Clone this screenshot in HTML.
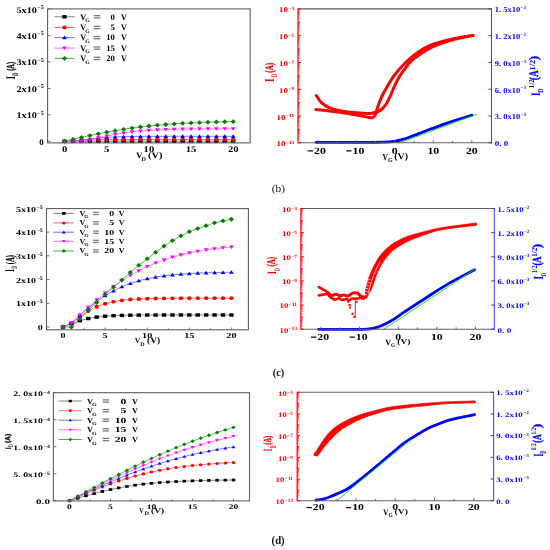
<!DOCTYPE html>
<html><head><meta charset="utf-8"><style>html,body{margin:0;padding:0;background:#fff;width:550px;height:550px;overflow:hidden}svg{display:block}svg{font-family:"Liberation Serif",serif;font-weight:bold}</style></head><body>
<svg width="550" height="550" viewBox="0 0 550 550" style="will-change:transform;text-rendering:geometricPrecision">
<rect width="550" height="550" fill="#fff"/>
<polyline points="64.6,141.3 73.03,141.3 81.46,141.3 89.89,141.3 98.32,141.3 106.75,141.3 115.18,141.3 123.61,141.3 132.04,141.3 140.47,141.3 148.9,141.3 157.33,141.3 165.76,141.3 174.19,141.3 182.62,141.3 191.05,141.3 199.48,141.3 207.91,141.3 216.34,141.3 224.77,141.3 233.2,141.3" fill="none" stroke="#808080" stroke-width="0.9" stroke-linejoin="round"/>
<polyline points="64.6,141.3 73.03,140.88 81.46,140.21 89.89,139.84 98.32,139.68 106.75,139.62 115.18,139.6 123.61,139.59 132.04,139.58 140.47,139.58 148.9,139.58 157.33,139.58 165.76,139.58 174.19,139.58 182.62,139.58 191.05,139.58 199.48,139.58 207.91,139.58 216.34,139.58 224.77,139.58 233.2,139.58" fill="none" stroke="#ff6a6a" stroke-width="0.9" stroke-linejoin="round"/>
<polyline points="64.6,141.3 73.03,141.3 81.46,140.17 89.89,138.92 98.32,137.96 106.75,137.3 115.18,136.88 123.61,136.63 132.04,136.48 140.47,136.39 148.9,136.34 157.33,136.31 165.76,136.3 174.19,136.29 182.62,136.28 191.05,136.28 199.48,136.28 207.91,136.28 216.34,136.28 224.77,136.28 233.2,136.28" fill="none" stroke="#7070ff" stroke-width="0.9" stroke-linejoin="round"/>
<polyline points="64.6,141.3 73.03,141.3 81.46,141.3 89.89,140.01 98.32,137.92 106.75,136.02 115.18,134.37 123.61,133.01 132.04,131.92 140.47,131.08 148.9,130.44 157.33,129.97 165.76,129.63 174.19,129.37 182.62,129.19 191.05,129.06 199.48,128.97 207.91,128.9 216.34,128.86 224.77,128.82 233.2,128.8" fill="none" stroke="#ff70ff" stroke-width="0.9" stroke-linejoin="round"/>
<polyline points="64.6,141.3 73.03,139.34 81.46,137.42 89.89,135.56 98.32,133.8 106.75,132.16 115.18,130.65 123.61,129.28 132.04,128.06 140.47,126.97 148.9,126.02 157.33,125.2 165.76,124.48 174.19,123.88 182.62,123.36 191.05,122.92 199.48,122.55 207.91,122.23 216.34,121.97 224.77,121.75 233.2,121.57" fill="none" stroke="#55aa55" stroke-width="0.9" stroke-linejoin="round"/>
<rect x="62.4" y="139.6" width="4.4" height="3.4" fill="#000000"/>
<rect x="70.83" y="139.6" width="4.4" height="3.4" fill="#000000"/>
<rect x="79.26" y="139.6" width="4.4" height="3.4" fill="#000000"/>
<rect x="87.69" y="139.6" width="4.4" height="3.4" fill="#000000"/>
<rect x="96.12" y="139.6" width="4.4" height="3.4" fill="#000000"/>
<rect x="104.55" y="139.6" width="4.4" height="3.4" fill="#000000"/>
<rect x="112.98" y="139.6" width="4.4" height="3.4" fill="#000000"/>
<rect x="121.41" y="139.6" width="4.4" height="3.4" fill="#000000"/>
<rect x="129.84" y="139.6" width="4.4" height="3.4" fill="#000000"/>
<rect x="138.27" y="139.6" width="4.4" height="3.4" fill="#000000"/>
<rect x="146.7" y="139.6" width="4.4" height="3.4" fill="#000000"/>
<rect x="155.13" y="139.6" width="4.4" height="3.4" fill="#000000"/>
<rect x="163.56" y="139.6" width="4.4" height="3.4" fill="#000000"/>
<rect x="171.99" y="139.6" width="4.4" height="3.4" fill="#000000"/>
<rect x="180.42" y="139.6" width="4.4" height="3.4" fill="#000000"/>
<rect x="188.85" y="139.6" width="4.4" height="3.4" fill="#000000"/>
<rect x="197.28" y="139.6" width="4.4" height="3.4" fill="#000000"/>
<rect x="205.71" y="139.6" width="4.4" height="3.4" fill="#000000"/>
<rect x="214.14" y="139.6" width="4.4" height="3.4" fill="#000000"/>
<rect x="222.57" y="139.6" width="4.4" height="3.4" fill="#000000"/>
<rect x="231" y="139.6" width="4.4" height="3.4" fill="#000000"/>
<ellipse cx="64.6" cy="141.3" rx="2.2" ry="1.9" fill="#ff0000"/>
<ellipse cx="73.03" cy="140.88" rx="2.2" ry="1.9" fill="#ff0000"/>
<ellipse cx="81.46" cy="140.21" rx="2.2" ry="1.9" fill="#ff0000"/>
<ellipse cx="89.89" cy="139.84" rx="2.2" ry="1.9" fill="#ff0000"/>
<ellipse cx="98.32" cy="139.68" rx="2.2" ry="1.9" fill="#ff0000"/>
<ellipse cx="106.75" cy="139.62" rx="2.2" ry="1.9" fill="#ff0000"/>
<ellipse cx="115.18" cy="139.6" rx="2.2" ry="1.9" fill="#ff0000"/>
<ellipse cx="123.61" cy="139.59" rx="2.2" ry="1.9" fill="#ff0000"/>
<ellipse cx="132.04" cy="139.58" rx="2.2" ry="1.9" fill="#ff0000"/>
<ellipse cx="140.47" cy="139.58" rx="2.2" ry="1.9" fill="#ff0000"/>
<ellipse cx="148.9" cy="139.58" rx="2.2" ry="1.9" fill="#ff0000"/>
<ellipse cx="157.33" cy="139.58" rx="2.2" ry="1.9" fill="#ff0000"/>
<ellipse cx="165.76" cy="139.58" rx="2.2" ry="1.9" fill="#ff0000"/>
<ellipse cx="174.19" cy="139.58" rx="2.2" ry="1.9" fill="#ff0000"/>
<ellipse cx="182.62" cy="139.58" rx="2.2" ry="1.9" fill="#ff0000"/>
<ellipse cx="191.05" cy="139.58" rx="2.2" ry="1.9" fill="#ff0000"/>
<ellipse cx="199.48" cy="139.58" rx="2.2" ry="1.9" fill="#ff0000"/>
<ellipse cx="207.91" cy="139.58" rx="2.2" ry="1.9" fill="#ff0000"/>
<ellipse cx="216.34" cy="139.58" rx="2.2" ry="1.9" fill="#ff0000"/>
<ellipse cx="224.77" cy="139.58" rx="2.2" ry="1.9" fill="#ff0000"/>
<ellipse cx="233.2" cy="139.58" rx="2.2" ry="1.9" fill="#ff0000"/>
<polygon points="64.6,139.32 62.2,142.92 67,142.92" fill="#0000ff"/>
<polygon points="73.03,139.32 70.63,142.92 75.43,142.92" fill="#0000ff"/>
<polygon points="81.46,138.19 79.06,141.79 83.86,141.79" fill="#0000ff"/>
<polygon points="89.89,136.94 87.49,140.54 92.29,140.54" fill="#0000ff"/>
<polygon points="98.32,135.98 95.92,139.58 100.72,139.58" fill="#0000ff"/>
<polygon points="106.75,135.32 104.35,138.92 109.15,138.92" fill="#0000ff"/>
<polygon points="115.18,134.9 112.78,138.5 117.58,138.5" fill="#0000ff"/>
<polygon points="123.61,134.65 121.21,138.25 126.01,138.25" fill="#0000ff"/>
<polygon points="132.04,134.5 129.64,138.1 134.44,138.1" fill="#0000ff"/>
<polygon points="140.47,134.41 138.07,138.01 142.87,138.01" fill="#0000ff"/>
<polygon points="148.9,134.36 146.5,137.96 151.3,137.96" fill="#0000ff"/>
<polygon points="157.33,134.33 154.93,137.93 159.73,137.93" fill="#0000ff"/>
<polygon points="165.76,134.32 163.36,137.92 168.16,137.92" fill="#0000ff"/>
<polygon points="174.19,134.31 171.79,137.91 176.59,137.91" fill="#0000ff"/>
<polygon points="182.62,134.3 180.22,137.9 185.02,137.9" fill="#0000ff"/>
<polygon points="191.05,134.3 188.65,137.9 193.45,137.9" fill="#0000ff"/>
<polygon points="199.48,134.3 197.08,137.9 201.88,137.9" fill="#0000ff"/>
<polygon points="207.91,134.3 205.51,137.9 210.31,137.9" fill="#0000ff"/>
<polygon points="216.34,134.3 213.94,137.9 218.74,137.9" fill="#0000ff"/>
<polygon points="224.77,134.3 222.37,137.9 227.17,137.9" fill="#0000ff"/>
<polygon points="233.2,134.3 230.8,137.9 235.6,137.9" fill="#0000ff"/>
<polygon points="64.6,143.28 62.2,139.68 67,139.68" fill="#ff00ff"/>
<polygon points="73.03,143.28 70.63,139.68 75.43,139.68" fill="#ff00ff"/>
<polygon points="81.46,143.28 79.06,139.68 83.86,139.68" fill="#ff00ff"/>
<polygon points="89.89,141.99 87.49,138.39 92.29,138.39" fill="#ff00ff"/>
<polygon points="98.32,139.9 95.92,136.3 100.72,136.3" fill="#ff00ff"/>
<polygon points="106.75,138 104.35,134.4 109.15,134.4" fill="#ff00ff"/>
<polygon points="115.18,136.35 112.78,132.75 117.58,132.75" fill="#ff00ff"/>
<polygon points="123.61,134.99 121.21,131.39 126.01,131.39" fill="#ff00ff"/>
<polygon points="132.04,133.9 129.64,130.3 134.44,130.3" fill="#ff00ff"/>
<polygon points="140.47,133.06 138.07,129.46 142.87,129.46" fill="#ff00ff"/>
<polygon points="148.9,132.42 146.5,128.82 151.3,128.82" fill="#ff00ff"/>
<polygon points="157.33,131.95 154.93,128.35 159.73,128.35" fill="#ff00ff"/>
<polygon points="165.76,131.61 163.36,128.01 168.16,128.01" fill="#ff00ff"/>
<polygon points="174.19,131.35 171.79,127.75 176.59,127.75" fill="#ff00ff"/>
<polygon points="182.62,131.17 180.22,127.57 185.02,127.57" fill="#ff00ff"/>
<polygon points="191.05,131.04 188.65,127.44 193.45,127.44" fill="#ff00ff"/>
<polygon points="199.48,130.95 197.08,127.35 201.88,127.35" fill="#ff00ff"/>
<polygon points="207.91,130.88 205.51,127.28 210.31,127.28" fill="#ff00ff"/>
<polygon points="216.34,130.84 213.94,127.24 218.74,127.24" fill="#ff00ff"/>
<polygon points="224.77,130.8 222.37,127.2 227.17,127.2" fill="#ff00ff"/>
<polygon points="233.2,130.78 230.8,127.18 235.6,127.18" fill="#ff00ff"/>
<polygon points="64.6,138.9 67.24,141.3 64.6,143.7 61.96,141.3" fill="#008000"/>
<polygon points="73.03,136.94 75.67,139.34 73.03,141.74 70.39,139.34" fill="#008000"/>
<polygon points="81.46,135.02 84.1,137.42 81.46,139.82 78.82,137.42" fill="#008000"/>
<polygon points="89.89,133.16 92.53,135.56 89.89,137.96 87.25,135.56" fill="#008000"/>
<polygon points="98.32,131.4 100.96,133.8 98.32,136.2 95.68,133.8" fill="#008000"/>
<polygon points="106.75,129.76 109.39,132.16 106.75,134.56 104.11,132.16" fill="#008000"/>
<polygon points="115.18,128.25 117.82,130.65 115.18,133.05 112.54,130.65" fill="#008000"/>
<polygon points="123.61,126.88 126.25,129.28 123.61,131.68 120.97,129.28" fill="#008000"/>
<polygon points="132.04,125.66 134.68,128.06 132.04,130.46 129.4,128.06" fill="#008000"/>
<polygon points="140.47,124.57 143.11,126.97 140.47,129.37 137.83,126.97" fill="#008000"/>
<polygon points="148.9,123.62 151.54,126.02 148.9,128.42 146.26,126.02" fill="#008000"/>
<polygon points="157.33,122.8 159.97,125.2 157.33,127.6 154.69,125.2" fill="#008000"/>
<polygon points="165.76,122.08 168.4,124.48 165.76,126.88 163.12,124.48" fill="#008000"/>
<polygon points="174.19,121.48 176.83,123.88 174.19,126.28 171.55,123.88" fill="#008000"/>
<polygon points="182.62,120.96 185.26,123.36 182.62,125.76 179.98,123.36" fill="#008000"/>
<polygon points="191.05,120.52 193.69,122.92 191.05,125.32 188.41,122.92" fill="#008000"/>
<polygon points="199.48,120.15 202.12,122.55 199.48,124.95 196.84,122.55" fill="#008000"/>
<polygon points="207.91,119.83 210.55,122.23 207.91,124.63 205.27,122.23" fill="#008000"/>
<polygon points="216.34,119.57 218.98,121.97 216.34,124.37 213.7,121.97" fill="#008000"/>
<polygon points="224.77,119.35 227.41,121.75 224.77,124.15 222.13,121.75" fill="#008000"/>
<polygon points="233.2,119.17 235.84,121.57 233.2,123.97 230.56,121.57" fill="#008000"/>
<rect x="47.6" y="8.9" width="202.6" height="134" fill="none" stroke="#5e5e5e" stroke-width="1.1"/>
<line x1="47.6" y1="141.3" x2="50.6" y2="141.3" stroke="#5e5e5e" stroke-width="0.9"/>
<line x1="47.6" y1="114.86" x2="50.6" y2="114.86" stroke="#5e5e5e" stroke-width="0.9"/>
<line x1="47.6" y1="88.42" x2="50.6" y2="88.42" stroke="#5e5e5e" stroke-width="0.9"/>
<line x1="47.6" y1="61.98" x2="50.6" y2="61.98" stroke="#5e5e5e" stroke-width="0.9"/>
<line x1="47.6" y1="35.54" x2="50.6" y2="35.54" stroke="#5e5e5e" stroke-width="0.9"/>
<line x1="47.6" y1="9.1" x2="50.6" y2="9.1" stroke="#5e5e5e" stroke-width="0.9"/>
<line x1="64.6" y1="142.9" x2="64.6" y2="140.7" stroke="#5e5e5e" stroke-width="0.9"/>
<line x1="85.67" y1="142.9" x2="85.67" y2="141.4" stroke="#5e5e5e" stroke-width="0.9"/>
<line x1="106.75" y1="142.9" x2="106.75" y2="140.7" stroke="#5e5e5e" stroke-width="0.9"/>
<line x1="127.82" y1="142.9" x2="127.82" y2="141.4" stroke="#5e5e5e" stroke-width="0.9"/>
<line x1="148.9" y1="142.9" x2="148.9" y2="140.7" stroke="#5e5e5e" stroke-width="0.9"/>
<line x1="169.97" y1="142.9" x2="169.97" y2="141.4" stroke="#5e5e5e" stroke-width="0.9"/>
<line x1="191.05" y1="142.9" x2="191.05" y2="140.7" stroke="#5e5e5e" stroke-width="0.9"/>
<line x1="212.12" y1="142.9" x2="212.12" y2="141.4" stroke="#5e5e5e" stroke-width="0.9"/>
<line x1="233.2" y1="142.9" x2="233.2" y2="140.7" stroke="#5e5e5e" stroke-width="0.9"/>
<text x="43.7" y="144.8" font-size="8.6" text-anchor="end" textLength="4.4" lengthAdjust="spacingAndGlyphs">0</text>
<text x="37.3" y="114.76" font-size="5.6" textLength="6.4" lengthAdjust="spacingAndGlyphs">−5</text>
<text x="16.5" y="118.36" font-size="8.6" textLength="20.4" lengthAdjust="spacingAndGlyphs">1x10</text>
<text x="37.3" y="88.32" font-size="5.6" textLength="6.4" lengthAdjust="spacingAndGlyphs">−5</text>
<text x="16.5" y="91.92" font-size="8.6" textLength="20.4" lengthAdjust="spacingAndGlyphs">2x10</text>
<text x="37.3" y="61.88" font-size="5.6" textLength="6.4" lengthAdjust="spacingAndGlyphs">−5</text>
<text x="16.5" y="65.48" font-size="8.6" textLength="20.4" lengthAdjust="spacingAndGlyphs">3x10</text>
<text x="37.3" y="35.44" font-size="5.6" textLength="6.4" lengthAdjust="spacingAndGlyphs">−5</text>
<text x="16.5" y="39.04" font-size="8.6" textLength="20.4" lengthAdjust="spacingAndGlyphs">4x10</text>
<text x="37.3" y="9" font-size="5.6" textLength="6.4" lengthAdjust="spacingAndGlyphs">−5</text>
<text x="16.5" y="12.6" font-size="8.6" textLength="20.4" lengthAdjust="spacingAndGlyphs">5x10</text>
<text x="64.6" y="152.2" font-size="8.6" text-anchor="middle" textLength="5.3" lengthAdjust="spacingAndGlyphs">0</text>
<text x="106.75" y="152.2" font-size="8.6" text-anchor="middle" textLength="5.3" lengthAdjust="spacingAndGlyphs">5</text>
<text x="148.9" y="152.2" font-size="8.6" text-anchor="middle" textLength="10.6" lengthAdjust="spacingAndGlyphs">10</text>
<text x="191.05" y="152.2" font-size="8.6" text-anchor="middle" textLength="10.6" lengthAdjust="spacingAndGlyphs">15</text>
<text x="233.2" y="152.2" font-size="8.6" text-anchor="middle" textLength="10.6" lengthAdjust="spacingAndGlyphs">20</text>
<text x="136" y="158.2" font-size="8.5" textLength="6.6" lengthAdjust="spacingAndGlyphs">V</text>
<text x="141.6" y="160.6" font-size="5.7" textLength="4.5" lengthAdjust="spacingAndGlyphs">D</text>
<text x="147.9" y="157.8" font-size="8.6" textLength="14.7" lengthAdjust="spacingAndGlyphs">(V)</text>
<text transform="translate(14.7,79.2) rotate(-90)" font-size="13" textLength="3.1" lengthAdjust="spacingAndGlyphs">I</text>
<text transform="translate(18,75.9) rotate(-90)" font-size="8.4" textLength="3.4" lengthAdjust="spacingAndGlyphs">D</text>
<text transform="translate(13.6,70.8) rotate(-90)" font-size="10.8" stroke="#000" stroke-width="0.35" textLength="8.8" lengthAdjust="spacingAndGlyphs">(A)</text>
<line x1="54.4" y1="16.8" x2="74.7" y2="16.8" stroke="#808080" stroke-width="1"/>
<rect x="62.3" y="15.1" width="4.4" height="3.4" fill="#000000"/>
<text x="80.3" y="19.53" font-size="8.4" textLength="5.9" lengthAdjust="spacingAndGlyphs">V</text>
<text x="85.2" y="22.13" font-size="5.21" textLength="4.6" lengthAdjust="spacingAndGlyphs">G</text>
<rect x="93.7" y="15.05" width="6.6" height="1.25" fill="#777"/>
<rect x="93.7" y="17.3" width="6.6" height="1.25" fill="#777"/>
<text x="114.9" y="19.53" font-size="8.4" text-anchor="end" textLength="4.35" lengthAdjust="spacingAndGlyphs">0</text>
<text x="121.1" y="19.53" font-size="8.4" textLength="5.9" lengthAdjust="spacingAndGlyphs">V</text>
<line x1="54.4" y1="27.5" x2="74.7" y2="27.5" stroke="#ff6a6a" stroke-width="1"/>
<ellipse cx="64.5" cy="27.5" rx="2.2" ry="1.9" fill="#ff0000"/>
<text x="80.3" y="30.23" font-size="8.4" textLength="5.9" lengthAdjust="spacingAndGlyphs">V</text>
<text x="85.2" y="32.83" font-size="5.21" textLength="4.6" lengthAdjust="spacingAndGlyphs">G</text>
<rect x="93.7" y="25.75" width="6.6" height="1.25" fill="#777"/>
<rect x="93.7" y="28" width="6.6" height="1.25" fill="#777"/>
<text x="114.9" y="30.23" font-size="8.4" text-anchor="end" textLength="4.35" lengthAdjust="spacingAndGlyphs">5</text>
<text x="121.1" y="30.23" font-size="8.4" textLength="5.9" lengthAdjust="spacingAndGlyphs">V</text>
<line x1="54.4" y1="37.6" x2="74.7" y2="37.6" stroke="#7070ff" stroke-width="1"/>
<polygon points="64.5,35.62 62.1,39.22 66.9,39.22" fill="#0000ff"/>
<text x="80.3" y="40.33" font-size="8.4" textLength="5.9" lengthAdjust="spacingAndGlyphs">V</text>
<text x="85.2" y="42.93" font-size="5.21" textLength="4.6" lengthAdjust="spacingAndGlyphs">G</text>
<rect x="93.7" y="35.85" width="6.6" height="1.25" fill="#777"/>
<rect x="93.7" y="38.1" width="6.6" height="1.25" fill="#777"/>
<text x="114.9" y="40.33" font-size="8.4" text-anchor="end" textLength="8.7" lengthAdjust="spacingAndGlyphs">10</text>
<text x="121.1" y="40.33" font-size="8.4" textLength="5.9" lengthAdjust="spacingAndGlyphs">V</text>
<line x1="54.4" y1="48.1" x2="74.7" y2="48.1" stroke="#ff70ff" stroke-width="1"/>
<polygon points="64.5,50.08 62.1,46.48 66.9,46.48" fill="#ff00ff"/>
<text x="80.3" y="50.83" font-size="8.4" textLength="5.9" lengthAdjust="spacingAndGlyphs">V</text>
<text x="85.2" y="53.43" font-size="5.21" textLength="4.6" lengthAdjust="spacingAndGlyphs">G</text>
<rect x="93.7" y="46.35" width="6.6" height="1.25" fill="#777"/>
<rect x="93.7" y="48.6" width="6.6" height="1.25" fill="#777"/>
<text x="114.9" y="50.83" font-size="8.4" text-anchor="end" textLength="8.7" lengthAdjust="spacingAndGlyphs">15</text>
<text x="121.1" y="50.83" font-size="8.4" textLength="5.9" lengthAdjust="spacingAndGlyphs">V</text>
<line x1="54.4" y1="58.4" x2="74.7" y2="58.4" stroke="#55aa55" stroke-width="1"/>
<polygon points="64.5,56 67.14,58.4 64.5,60.8 61.86,58.4" fill="#008000"/>
<text x="80.3" y="61.13" font-size="8.4" textLength="5.9" lengthAdjust="spacingAndGlyphs">V</text>
<text x="85.2" y="63.73" font-size="5.21" textLength="4.6" lengthAdjust="spacingAndGlyphs">G</text>
<rect x="93.7" y="56.65" width="6.6" height="1.25" fill="#777"/>
<rect x="93.7" y="58.9" width="6.6" height="1.25" fill="#777"/>
<text x="114.9" y="61.13" font-size="8.4" text-anchor="end" textLength="8.7" lengthAdjust="spacingAndGlyphs">20</text>
<text x="121.1" y="61.13" font-size="8.4" textLength="5.9" lengthAdjust="spacingAndGlyphs">V</text>
<polyline points="63,327 71.42,323.57 79.84,320.66 88.26,318.51 96.68,317.08 105.1,316.2 113.52,315.68 121.94,315.38 130.36,315.22 138.78,315.12 147.2,315.07 155.62,315.04 164.04,315.02 172.46,315.01 180.88,315.01 189.3,315 197.72,315 206.14,315 214.56,315 222.98,315 231.4,315" fill="none" stroke="#808080" stroke-width="0.9" stroke-linejoin="round"/>
<polyline points="63,327 71.42,323.42 79.84,316.68 88.26,311.03 96.68,306.73 105.1,303.69 113.52,301.66 121.94,300.35 130.36,299.52 138.78,299.01 147.2,298.69 155.62,298.5 164.04,298.38 172.46,298.31 180.88,298.27 189.3,298.24 197.72,298.22 206.14,298.22 214.56,298.21 222.98,298.21 231.4,298.2" fill="none" stroke="#ff6a6a" stroke-width="0.9" stroke-linejoin="round"/>
<polyline points="63,327 71.42,323.06 79.84,315.35 88.26,308.08 96.68,301.49 105.1,295.71 113.52,290.79 121.94,286.71 130.36,283.39 138.78,280.74 147.2,278.66 155.62,277.04 164.04,275.78 172.46,274.82 180.88,274.08 189.3,273.53 197.72,273.1 206.14,272.78 214.56,272.54 222.98,272.36 231.4,272.22" fill="none" stroke="#7070ff" stroke-width="0.9" stroke-linejoin="round"/>
<polyline points="63,327 71.42,323 79.84,315.08 88.26,307.37 96.68,299.99 105.1,293.05 113.52,286.63 121.94,280.76 130.36,275.48 138.78,270.78 147.2,266.64 155.62,263.03 164.04,259.9 172.46,257.22 180.88,254.93 189.3,252.98 197.72,251.34 206.14,249.95 214.56,248.79 222.98,247.81 231.4,247" fill="none" stroke="#ff70ff" stroke-width="0.9" stroke-linejoin="round"/>
<polyline points="63,327 71.42,327 79.84,319.08 88.26,310.44 96.68,302.52 105.1,294.6 113.52,287.16 121.94,279.96 130.36,272.28 138.78,265.32 147.2,258.84 155.62,252.36 164.04,246.12 172.46,240.6 180.88,235.8 189.3,231.72 197.72,228.6 206.14,225.72 214.56,222.84 222.98,220.92 231.4,219.24" fill="none" stroke="#55aa55" stroke-width="0.9" stroke-linejoin="round"/>
<rect x="60.8" y="325.3" width="4.4" height="3.4" fill="#000000"/>
<rect x="69.22" y="321.87" width="4.4" height="3.4" fill="#000000"/>
<rect x="77.64" y="318.96" width="4.4" height="3.4" fill="#000000"/>
<rect x="86.06" y="316.81" width="4.4" height="3.4" fill="#000000"/>
<rect x="94.48" y="315.38" width="4.4" height="3.4" fill="#000000"/>
<rect x="102.9" y="314.5" width="4.4" height="3.4" fill="#000000"/>
<rect x="111.32" y="313.98" width="4.4" height="3.4" fill="#000000"/>
<rect x="119.74" y="313.68" width="4.4" height="3.4" fill="#000000"/>
<rect x="128.16" y="313.52" width="4.4" height="3.4" fill="#000000"/>
<rect x="136.58" y="313.42" width="4.4" height="3.4" fill="#000000"/>
<rect x="145" y="313.37" width="4.4" height="3.4" fill="#000000"/>
<rect x="153.42" y="313.34" width="4.4" height="3.4" fill="#000000"/>
<rect x="161.84" y="313.32" width="4.4" height="3.4" fill="#000000"/>
<rect x="170.26" y="313.31" width="4.4" height="3.4" fill="#000000"/>
<rect x="178.68" y="313.31" width="4.4" height="3.4" fill="#000000"/>
<rect x="187.1" y="313.3" width="4.4" height="3.4" fill="#000000"/>
<rect x="195.52" y="313.3" width="4.4" height="3.4" fill="#000000"/>
<rect x="203.94" y="313.3" width="4.4" height="3.4" fill="#000000"/>
<rect x="212.36" y="313.3" width="4.4" height="3.4" fill="#000000"/>
<rect x="220.78" y="313.3" width="4.4" height="3.4" fill="#000000"/>
<rect x="229.2" y="313.3" width="4.4" height="3.4" fill="#000000"/>
<ellipse cx="63" cy="327" rx="2.2" ry="1.9" fill="#ff0000"/>
<ellipse cx="71.42" cy="323.42" rx="2.2" ry="1.9" fill="#ff0000"/>
<ellipse cx="79.84" cy="316.68" rx="2.2" ry="1.9" fill="#ff0000"/>
<ellipse cx="88.26" cy="311.03" rx="2.2" ry="1.9" fill="#ff0000"/>
<ellipse cx="96.68" cy="306.73" rx="2.2" ry="1.9" fill="#ff0000"/>
<ellipse cx="105.1" cy="303.69" rx="2.2" ry="1.9" fill="#ff0000"/>
<ellipse cx="113.52" cy="301.66" rx="2.2" ry="1.9" fill="#ff0000"/>
<ellipse cx="121.94" cy="300.35" rx="2.2" ry="1.9" fill="#ff0000"/>
<ellipse cx="130.36" cy="299.52" rx="2.2" ry="1.9" fill="#ff0000"/>
<ellipse cx="138.78" cy="299.01" rx="2.2" ry="1.9" fill="#ff0000"/>
<ellipse cx="147.2" cy="298.69" rx="2.2" ry="1.9" fill="#ff0000"/>
<ellipse cx="155.62" cy="298.5" rx="2.2" ry="1.9" fill="#ff0000"/>
<ellipse cx="164.04" cy="298.38" rx="2.2" ry="1.9" fill="#ff0000"/>
<ellipse cx="172.46" cy="298.31" rx="2.2" ry="1.9" fill="#ff0000"/>
<ellipse cx="180.88" cy="298.27" rx="2.2" ry="1.9" fill="#ff0000"/>
<ellipse cx="189.3" cy="298.24" rx="2.2" ry="1.9" fill="#ff0000"/>
<ellipse cx="197.72" cy="298.22" rx="2.2" ry="1.9" fill="#ff0000"/>
<ellipse cx="206.14" cy="298.22" rx="2.2" ry="1.9" fill="#ff0000"/>
<ellipse cx="214.56" cy="298.21" rx="2.2" ry="1.9" fill="#ff0000"/>
<ellipse cx="222.98" cy="298.21" rx="2.2" ry="1.9" fill="#ff0000"/>
<ellipse cx="231.4" cy="298.2" rx="2.2" ry="1.9" fill="#ff0000"/>
<polygon points="63,325.02 60.6,328.62 65.4,328.62" fill="#0000ff"/>
<polygon points="71.42,321.08 69.02,324.68 73.82,324.68" fill="#0000ff"/>
<polygon points="79.84,313.37 77.44,316.97 82.24,316.97" fill="#0000ff"/>
<polygon points="88.26,306.1 85.86,309.7 90.66,309.7" fill="#0000ff"/>
<polygon points="96.68,299.51 94.28,303.11 99.08,303.11" fill="#0000ff"/>
<polygon points="105.1,293.73 102.7,297.33 107.5,297.33" fill="#0000ff"/>
<polygon points="113.52,288.81 111.12,292.41 115.92,292.41" fill="#0000ff"/>
<polygon points="121.94,284.73 119.54,288.33 124.34,288.33" fill="#0000ff"/>
<polygon points="130.36,281.41 127.96,285.01 132.76,285.01" fill="#0000ff"/>
<polygon points="138.78,278.76 136.38,282.36 141.18,282.36" fill="#0000ff"/>
<polygon points="147.2,276.68 144.8,280.28 149.6,280.28" fill="#0000ff"/>
<polygon points="155.62,275.06 153.22,278.66 158.02,278.66" fill="#0000ff"/>
<polygon points="164.04,273.8 161.64,277.4 166.44,277.4" fill="#0000ff"/>
<polygon points="172.46,272.84 170.06,276.44 174.86,276.44" fill="#0000ff"/>
<polygon points="180.88,272.1 178.48,275.7 183.28,275.7" fill="#0000ff"/>
<polygon points="189.3,271.55 186.9,275.15 191.7,275.15" fill="#0000ff"/>
<polygon points="197.72,271.12 195.32,274.72 200.12,274.72" fill="#0000ff"/>
<polygon points="206.14,270.8 203.74,274.4 208.54,274.4" fill="#0000ff"/>
<polygon points="214.56,270.56 212.16,274.16 216.96,274.16" fill="#0000ff"/>
<polygon points="222.98,270.38 220.58,273.98 225.38,273.98" fill="#0000ff"/>
<polygon points="231.4,270.24 229,273.84 233.8,273.84" fill="#0000ff"/>
<polygon points="63,328.98 60.6,325.38 65.4,325.38" fill="#ff00ff"/>
<polygon points="71.42,324.98 69.02,321.38 73.82,321.38" fill="#ff00ff"/>
<polygon points="79.84,317.06 77.44,313.46 82.24,313.46" fill="#ff00ff"/>
<polygon points="88.26,309.35 85.86,305.75 90.66,305.75" fill="#ff00ff"/>
<polygon points="96.68,301.97 94.28,298.37 99.08,298.37" fill="#ff00ff"/>
<polygon points="105.1,295.03 102.7,291.43 107.5,291.43" fill="#ff00ff"/>
<polygon points="113.52,288.61 111.12,285.01 115.92,285.01" fill="#ff00ff"/>
<polygon points="121.94,282.74 119.54,279.14 124.34,279.14" fill="#ff00ff"/>
<polygon points="130.36,277.46 127.96,273.86 132.76,273.86" fill="#ff00ff"/>
<polygon points="138.78,272.76 136.38,269.16 141.18,269.16" fill="#ff00ff"/>
<polygon points="147.2,268.62 144.8,265.02 149.6,265.02" fill="#ff00ff"/>
<polygon points="155.62,265.01 153.22,261.41 158.02,261.41" fill="#ff00ff"/>
<polygon points="164.04,261.88 161.64,258.28 166.44,258.28" fill="#ff00ff"/>
<polygon points="172.46,259.2 170.06,255.6 174.86,255.6" fill="#ff00ff"/>
<polygon points="180.88,256.91 178.48,253.31 183.28,253.31" fill="#ff00ff"/>
<polygon points="189.3,254.96 186.9,251.36 191.7,251.36" fill="#ff00ff"/>
<polygon points="197.72,253.32 195.32,249.72 200.12,249.72" fill="#ff00ff"/>
<polygon points="206.14,251.93 203.74,248.33 208.54,248.33" fill="#ff00ff"/>
<polygon points="214.56,250.77 212.16,247.17 216.96,247.17" fill="#ff00ff"/>
<polygon points="222.98,249.79 220.58,246.19 225.38,246.19" fill="#ff00ff"/>
<polygon points="231.4,248.98 229,245.38 233.8,245.38" fill="#ff00ff"/>
<polygon points="63,324.6 65.64,327 63,329.4 60.36,327" fill="#008000"/>
<polygon points="71.42,324.6 74.06,327 71.42,329.4 68.78,327" fill="#008000"/>
<polygon points="79.84,316.68 82.48,319.08 79.84,321.48 77.2,319.08" fill="#008000"/>
<polygon points="88.26,308.04 90.9,310.44 88.26,312.84 85.62,310.44" fill="#008000"/>
<polygon points="96.68,300.12 99.32,302.52 96.68,304.92 94.04,302.52" fill="#008000"/>
<polygon points="105.1,292.2 107.74,294.6 105.1,297 102.46,294.6" fill="#008000"/>
<polygon points="113.52,284.76 116.16,287.16 113.52,289.56 110.88,287.16" fill="#008000"/>
<polygon points="121.94,277.56 124.58,279.96 121.94,282.36 119.3,279.96" fill="#008000"/>
<polygon points="130.36,269.88 133,272.28 130.36,274.68 127.72,272.28" fill="#008000"/>
<polygon points="138.78,262.92 141.42,265.32 138.78,267.72 136.14,265.32" fill="#008000"/>
<polygon points="147.2,256.44 149.84,258.84 147.2,261.24 144.56,258.84" fill="#008000"/>
<polygon points="155.62,249.96 158.26,252.36 155.62,254.76 152.98,252.36" fill="#008000"/>
<polygon points="164.04,243.72 166.68,246.12 164.04,248.52 161.4,246.12" fill="#008000"/>
<polygon points="172.46,238.2 175.1,240.6 172.46,243 169.82,240.6" fill="#008000"/>
<polygon points="180.88,233.4 183.52,235.8 180.88,238.2 178.24,235.8" fill="#008000"/>
<polygon points="189.3,229.32 191.94,231.72 189.3,234.12 186.66,231.72" fill="#008000"/>
<polygon points="197.72,226.2 200.36,228.6 197.72,231 195.08,228.6" fill="#008000"/>
<polygon points="206.14,223.32 208.78,225.72 206.14,228.12 203.5,225.72" fill="#008000"/>
<polygon points="214.56,220.44 217.2,222.84 214.56,225.24 211.92,222.84" fill="#008000"/>
<polygon points="222.98,218.52 225.62,220.92 222.98,223.32 220.34,220.92" fill="#008000"/>
<polygon points="231.4,216.84 234.04,219.24 231.4,221.64 228.76,219.24" fill="#008000"/>
<rect x="46.5" y="208.6" width="201.9" height="121.2" fill="none" stroke="#5e5e5e" stroke-width="1.1"/>
<line x1="46.5" y1="327" x2="49.5" y2="327" stroke="#5e5e5e" stroke-width="0.9"/>
<line x1="46.5" y1="303.28" x2="49.5" y2="303.28" stroke="#5e5e5e" stroke-width="0.9"/>
<line x1="46.5" y1="279.56" x2="49.5" y2="279.56" stroke="#5e5e5e" stroke-width="0.9"/>
<line x1="46.5" y1="255.84" x2="49.5" y2="255.84" stroke="#5e5e5e" stroke-width="0.9"/>
<line x1="46.5" y1="232.12" x2="49.5" y2="232.12" stroke="#5e5e5e" stroke-width="0.9"/>
<line x1="46.5" y1="208.4" x2="49.5" y2="208.4" stroke="#5e5e5e" stroke-width="0.9"/>
<line x1="63" y1="329.8" x2="63" y2="327.6" stroke="#5e5e5e" stroke-width="0.9"/>
<line x1="84.05" y1="329.8" x2="84.05" y2="328.3" stroke="#5e5e5e" stroke-width="0.9"/>
<line x1="105.1" y1="329.8" x2="105.1" y2="327.6" stroke="#5e5e5e" stroke-width="0.9"/>
<line x1="126.15" y1="329.8" x2="126.15" y2="328.3" stroke="#5e5e5e" stroke-width="0.9"/>
<line x1="147.2" y1="329.8" x2="147.2" y2="327.6" stroke="#5e5e5e" stroke-width="0.9"/>
<line x1="168.25" y1="329.8" x2="168.25" y2="328.3" stroke="#5e5e5e" stroke-width="0.9"/>
<line x1="189.3" y1="329.8" x2="189.3" y2="327.6" stroke="#5e5e5e" stroke-width="0.9"/>
<line x1="210.35" y1="329.8" x2="210.35" y2="328.3" stroke="#5e5e5e" stroke-width="0.9"/>
<line x1="231.4" y1="329.8" x2="231.4" y2="327.6" stroke="#5e5e5e" stroke-width="0.9"/>
<text x="42.7" y="330.2" font-size="7.6" text-anchor="end" textLength="5" lengthAdjust="spacingAndGlyphs">0</text>
<text x="36.4" y="303.48" font-size="5.2" textLength="6.3" lengthAdjust="spacingAndGlyphs">−5</text>
<text x="16" y="306.48" font-size="7.6" textLength="20" lengthAdjust="spacingAndGlyphs">1x10</text>
<text x="36.4" y="279.76" font-size="5.2" textLength="6.3" lengthAdjust="spacingAndGlyphs">−5</text>
<text x="16" y="282.76" font-size="7.6" textLength="20" lengthAdjust="spacingAndGlyphs">2x10</text>
<text x="36.4" y="256.04" font-size="5.2" textLength="6.3" lengthAdjust="spacingAndGlyphs">−5</text>
<text x="16" y="259.04" font-size="7.6" textLength="20" lengthAdjust="spacingAndGlyphs">3x10</text>
<text x="36.4" y="232.32" font-size="5.2" textLength="6.3" lengthAdjust="spacingAndGlyphs">−5</text>
<text x="16" y="235.32" font-size="7.6" textLength="20" lengthAdjust="spacingAndGlyphs">4x10</text>
<text x="36.4" y="208.6" font-size="5.2" textLength="6.3" lengthAdjust="spacingAndGlyphs">−5</text>
<text x="16" y="211.6" font-size="7.6" textLength="20" lengthAdjust="spacingAndGlyphs">5x10</text>
<text x="63" y="338.3" font-size="7.6" text-anchor="middle" textLength="5.1" lengthAdjust="spacingAndGlyphs">0</text>
<text x="105.1" y="338.3" font-size="7.6" text-anchor="middle" textLength="5.1" lengthAdjust="spacingAndGlyphs">5</text>
<text x="147.2" y="338.3" font-size="7.6" text-anchor="middle" textLength="10.2" lengthAdjust="spacingAndGlyphs">10</text>
<text x="189.3" y="338.3" font-size="7.6" text-anchor="middle" textLength="10.2" lengthAdjust="spacingAndGlyphs">15</text>
<text x="231.4" y="338.3" font-size="7.6" text-anchor="middle" textLength="10.2" lengthAdjust="spacingAndGlyphs">20</text>
<text x="134.8" y="343" font-size="7.7" textLength="5.4" lengthAdjust="spacingAndGlyphs">V</text>
<text x="140.3" y="345.7" font-size="5.2" textLength="4.4" lengthAdjust="spacingAndGlyphs">D</text>
<text x="147.1" y="343" font-size="8.6" textLength="13.1" lengthAdjust="spacingAndGlyphs">(V)</text>
<text transform="translate(13.7,271.9) rotate(-90)" font-size="12.8" textLength="3" lengthAdjust="spacingAndGlyphs">I</text>
<text transform="translate(16.9,268.7) rotate(-90)" font-size="8.3" textLength="2.7" lengthAdjust="spacingAndGlyphs">D</text>
<text transform="translate(14.1,264.3) rotate(-90)" font-size="12.1" stroke="#000" stroke-width="0.35" textLength="9.3" lengthAdjust="spacingAndGlyphs">(A)</text>
<line x1="53.2" y1="213.4" x2="74" y2="213.4" stroke="#808080" stroke-width="1"/>
<rect x="62.04" y="212.04" width="3.52" height="2.72" fill="#000000"/>
<text x="79.6" y="215.87" font-size="7.6" textLength="5.7" lengthAdjust="spacingAndGlyphs">V</text>
<text x="84.3" y="218.47" font-size="4.71" textLength="4.45" lengthAdjust="spacingAndGlyphs">G</text>
<rect x="93.2" y="211.65" width="5.6" height="1.25" fill="#777"/>
<rect x="93.2" y="213.9" width="5.6" height="1.25" fill="#777"/>
<text x="114.2" y="215.87" font-size="7.6" text-anchor="end" textLength="4.95" lengthAdjust="spacingAndGlyphs">0</text>
<text x="118.8" y="215.87" font-size="7.6" textLength="5.7" lengthAdjust="spacingAndGlyphs">V</text>
<line x1="53.2" y1="222.9" x2="74" y2="222.9" stroke="#ff6a6a" stroke-width="1"/>
<ellipse cx="63.8" cy="222.9" rx="1.76" ry="1.52" fill="#ff0000"/>
<text x="79.6" y="225.37" font-size="7.6" textLength="5.7" lengthAdjust="spacingAndGlyphs">V</text>
<text x="84.3" y="227.97" font-size="4.71" textLength="4.45" lengthAdjust="spacingAndGlyphs">G</text>
<rect x="93.2" y="221.15" width="5.6" height="1.25" fill="#777"/>
<rect x="93.2" y="223.4" width="5.6" height="1.25" fill="#777"/>
<text x="114.2" y="225.37" font-size="7.6" text-anchor="end" textLength="4.95" lengthAdjust="spacingAndGlyphs">5</text>
<text x="118.8" y="225.37" font-size="7.6" textLength="5.7" lengthAdjust="spacingAndGlyphs">V</text>
<line x1="53.2" y1="232.2" x2="74" y2="232.2" stroke="#7070ff" stroke-width="1"/>
<polygon points="63.8,230.62 61.88,233.5 65.72,233.5" fill="#0000ff"/>
<text x="79.6" y="234.67" font-size="7.6" textLength="5.7" lengthAdjust="spacingAndGlyphs">V</text>
<text x="84.3" y="237.27" font-size="4.71" textLength="4.45" lengthAdjust="spacingAndGlyphs">G</text>
<rect x="93.2" y="230.45" width="5.6" height="1.25" fill="#777"/>
<rect x="93.2" y="232.7" width="5.6" height="1.25" fill="#777"/>
<text x="114.2" y="234.67" font-size="7.6" text-anchor="end" textLength="9.9" lengthAdjust="spacingAndGlyphs">10</text>
<text x="118.8" y="234.67" font-size="7.6" textLength="5.7" lengthAdjust="spacingAndGlyphs">V</text>
<line x1="53.2" y1="241.4" x2="74" y2="241.4" stroke="#ff70ff" stroke-width="1"/>
<polygon points="63.8,242.98 61.88,240.1 65.72,240.1" fill="#ff00ff"/>
<text x="79.6" y="243.87" font-size="7.6" textLength="5.7" lengthAdjust="spacingAndGlyphs">V</text>
<text x="84.3" y="246.47" font-size="4.71" textLength="4.45" lengthAdjust="spacingAndGlyphs">G</text>
<rect x="93.2" y="239.65" width="5.6" height="1.25" fill="#777"/>
<rect x="93.2" y="241.9" width="5.6" height="1.25" fill="#777"/>
<text x="114.2" y="243.87" font-size="7.6" text-anchor="end" textLength="9.9" lengthAdjust="spacingAndGlyphs">15</text>
<text x="118.8" y="243.87" font-size="7.6" textLength="5.7" lengthAdjust="spacingAndGlyphs">V</text>
<line x1="53.2" y1="251" x2="74" y2="251" stroke="#55aa55" stroke-width="1"/>
<polygon points="63.8,249.08 65.91,251 63.8,252.92 61.69,251" fill="#008000"/>
<text x="79.6" y="253.47" font-size="7.6" textLength="5.7" lengthAdjust="spacingAndGlyphs">V</text>
<text x="84.3" y="256.07" font-size="4.71" textLength="4.45" lengthAdjust="spacingAndGlyphs">G</text>
<rect x="93.2" y="249.25" width="5.6" height="1.25" fill="#777"/>
<rect x="93.2" y="251.5" width="5.6" height="1.25" fill="#777"/>
<text x="114.2" y="253.47" font-size="7.6" text-anchor="end" textLength="9.9" lengthAdjust="spacingAndGlyphs">20</text>
<text x="118.8" y="253.47" font-size="7.6" textLength="5.7" lengthAdjust="spacingAndGlyphs">V</text>
<polyline points="69.5,500.7 77.7,498.23 85.9,495.83 94.1,493.56 102.3,491.46 110.5,489.57 118.7,487.89 126.9,486.44 135.1,485.2 143.3,484.16 151.5,483.3 159.7,482.58 167.9,482 176.1,481.53 184.3,481.15 192.5,480.84 200.7,480.59 208.9,480.4 217.1,480.24 225.3,480.12 233.5,480.02" fill="none" stroke="#808080" stroke-width="0.9" stroke-linejoin="round"/>
<polyline points="69.5,500.7 77.7,497.13 85.9,493.61 94.1,490.19 102.3,486.93 110.5,483.86 118.7,481.01 126.9,478.39 135.1,476.02 143.3,473.89 151.5,471.99 159.7,470.32 167.9,468.85 176.1,467.58 184.3,466.47 192.5,465.52 200.7,464.71 208.9,464.01 217.1,463.42 225.3,462.91 233.5,462.48" fill="none" stroke="#ff6a6a" stroke-width="0.9" stroke-linejoin="round"/>
<polyline points="69.5,500.7 77.7,496.85 85.9,493.02 94.1,489.25 102.3,485.56 110.5,481.96 118.7,478.49 126.9,475.16 135.1,471.98 143.3,468.97 151.5,466.12 159.7,463.45 167.9,460.95 176.1,458.64 184.3,456.49 192.5,454.51 200.7,452.69 208.9,451.03 217.1,449.51 225.3,448.12 233.5,446.87" fill="none" stroke="#7070ff" stroke-width="0.9" stroke-linejoin="round"/>
<polyline points="69.5,500.7 77.7,496.55 85.9,492.42 94.1,488.32 102.3,484.29 110.5,480.32 118.7,476.45 126.9,472.67 135.1,469.02 143.3,465.49 151.5,462.09 159.7,458.84 167.9,455.74 176.1,452.78 184.3,449.98 192.5,447.34 200.7,444.84 208.9,442.5 217.1,440.3 225.3,438.25 233.5,436.34" fill="none" stroke="#ff70ff" stroke-width="0.9" stroke-linejoin="round"/>
<polyline points="69.5,500.7 77.7,496.24 85.9,491.79 94.1,487.38 102.3,483.01 110.5,478.7 118.7,474.46 126.9,470.3 135.1,466.24 143.3,462.29 151.5,458.45 159.7,454.73 167.9,451.14 176.1,447.69 184.3,444.37 192.5,441.19 200.7,438.15 208.9,435.26 217.1,432.5 225.3,429.89 233.5,427.42" fill="none" stroke="#55aa55" stroke-width="0.9" stroke-linejoin="round"/>
<rect x="67.74" y="499.34" width="3.52" height="2.72" fill="#000000"/>
<rect x="75.94" y="496.87" width="3.52" height="2.72" fill="#000000"/>
<rect x="84.14" y="494.47" width="3.52" height="2.72" fill="#000000"/>
<rect x="92.34" y="492.2" width="3.52" height="2.72" fill="#000000"/>
<rect x="100.54" y="490.1" width="3.52" height="2.72" fill="#000000"/>
<rect x="108.74" y="488.21" width="3.52" height="2.72" fill="#000000"/>
<rect x="116.94" y="486.53" width="3.52" height="2.72" fill="#000000"/>
<rect x="125.14" y="485.08" width="3.52" height="2.72" fill="#000000"/>
<rect x="133.34" y="483.84" width="3.52" height="2.72" fill="#000000"/>
<rect x="141.54" y="482.8" width="3.52" height="2.72" fill="#000000"/>
<rect x="149.74" y="481.94" width="3.52" height="2.72" fill="#000000"/>
<rect x="157.94" y="481.22" width="3.52" height="2.72" fill="#000000"/>
<rect x="166.14" y="480.64" width="3.52" height="2.72" fill="#000000"/>
<rect x="174.34" y="480.17" width="3.52" height="2.72" fill="#000000"/>
<rect x="182.54" y="479.79" width="3.52" height="2.72" fill="#000000"/>
<rect x="190.74" y="479.48" width="3.52" height="2.72" fill="#000000"/>
<rect x="198.94" y="479.23" width="3.52" height="2.72" fill="#000000"/>
<rect x="207.14" y="479.04" width="3.52" height="2.72" fill="#000000"/>
<rect x="215.34" y="478.88" width="3.52" height="2.72" fill="#000000"/>
<rect x="223.54" y="478.76" width="3.52" height="2.72" fill="#000000"/>
<rect x="231.74" y="478.66" width="3.52" height="2.72" fill="#000000"/>
<ellipse cx="69.5" cy="500.7" rx="1.76" ry="1.52" fill="#ff0000"/>
<ellipse cx="77.7" cy="497.13" rx="1.76" ry="1.52" fill="#ff0000"/>
<ellipse cx="85.9" cy="493.61" rx="1.76" ry="1.52" fill="#ff0000"/>
<ellipse cx="94.1" cy="490.19" rx="1.76" ry="1.52" fill="#ff0000"/>
<ellipse cx="102.3" cy="486.93" rx="1.76" ry="1.52" fill="#ff0000"/>
<ellipse cx="110.5" cy="483.86" rx="1.76" ry="1.52" fill="#ff0000"/>
<ellipse cx="118.7" cy="481.01" rx="1.76" ry="1.52" fill="#ff0000"/>
<ellipse cx="126.9" cy="478.39" rx="1.76" ry="1.52" fill="#ff0000"/>
<ellipse cx="135.1" cy="476.02" rx="1.76" ry="1.52" fill="#ff0000"/>
<ellipse cx="143.3" cy="473.89" rx="1.76" ry="1.52" fill="#ff0000"/>
<ellipse cx="151.5" cy="471.99" rx="1.76" ry="1.52" fill="#ff0000"/>
<ellipse cx="159.7" cy="470.32" rx="1.76" ry="1.52" fill="#ff0000"/>
<ellipse cx="167.9" cy="468.85" rx="1.76" ry="1.52" fill="#ff0000"/>
<ellipse cx="176.1" cy="467.58" rx="1.76" ry="1.52" fill="#ff0000"/>
<ellipse cx="184.3" cy="466.47" rx="1.76" ry="1.52" fill="#ff0000"/>
<ellipse cx="192.5" cy="465.52" rx="1.76" ry="1.52" fill="#ff0000"/>
<ellipse cx="200.7" cy="464.71" rx="1.76" ry="1.52" fill="#ff0000"/>
<ellipse cx="208.9" cy="464.01" rx="1.76" ry="1.52" fill="#ff0000"/>
<ellipse cx="217.1" cy="463.42" rx="1.76" ry="1.52" fill="#ff0000"/>
<ellipse cx="225.3" cy="462.91" rx="1.76" ry="1.52" fill="#ff0000"/>
<ellipse cx="233.5" cy="462.48" rx="1.76" ry="1.52" fill="#ff0000"/>
<polygon points="69.5,499.12 67.58,502 71.42,502" fill="#0000ff"/>
<polygon points="77.7,495.26 75.78,498.14 79.62,498.14" fill="#0000ff"/>
<polygon points="85.9,491.44 83.98,494.32 87.82,494.32" fill="#0000ff"/>
<polygon points="94.1,487.67 92.18,490.55 96.02,490.55" fill="#0000ff"/>
<polygon points="102.3,483.97 100.38,486.85 104.22,486.85" fill="#0000ff"/>
<polygon points="110.5,480.38 108.58,483.26 112.42,483.26" fill="#0000ff"/>
<polygon points="118.7,476.91 116.78,479.79 120.62,479.79" fill="#0000ff"/>
<polygon points="126.9,473.58 124.98,476.46 128.82,476.46" fill="#0000ff"/>
<polygon points="135.1,470.4 133.18,473.28 137.02,473.28" fill="#0000ff"/>
<polygon points="143.3,467.38 141.38,470.26 145.22,470.26" fill="#0000ff"/>
<polygon points="151.5,464.54 149.58,467.42 153.42,467.42" fill="#0000ff"/>
<polygon points="159.7,461.86 157.78,464.74 161.62,464.74" fill="#0000ff"/>
<polygon points="167.9,459.37 165.98,462.25 169.82,462.25" fill="#0000ff"/>
<polygon points="176.1,457.05 174.18,459.93 178.02,459.93" fill="#0000ff"/>
<polygon points="184.3,454.91 182.38,457.79 186.22,457.79" fill="#0000ff"/>
<polygon points="192.5,452.93 190.58,455.81 194.42,455.81" fill="#0000ff"/>
<polygon points="200.7,451.11 198.78,453.99 202.62,453.99" fill="#0000ff"/>
<polygon points="208.9,449.44 206.98,452.32 210.82,452.32" fill="#0000ff"/>
<polygon points="217.1,447.92 215.18,450.8 219.02,450.8" fill="#0000ff"/>
<polygon points="225.3,446.54 223.38,449.42 227.22,449.42" fill="#0000ff"/>
<polygon points="233.5,445.28 231.58,448.16 235.42,448.16" fill="#0000ff"/>
<polygon points="69.5,502.28 67.58,499.4 71.42,499.4" fill="#ff00ff"/>
<polygon points="77.7,498.13 75.78,495.25 79.62,495.25" fill="#ff00ff"/>
<polygon points="85.9,494 83.98,491.12 87.82,491.12" fill="#ff00ff"/>
<polygon points="94.1,489.91 92.18,487.03 96.02,487.03" fill="#ff00ff"/>
<polygon points="102.3,485.87 100.38,482.99 104.22,482.99" fill="#ff00ff"/>
<polygon points="110.5,481.91 108.58,479.03 112.42,479.03" fill="#ff00ff"/>
<polygon points="118.7,478.03 116.78,475.15 120.62,475.15" fill="#ff00ff"/>
<polygon points="126.9,474.26 124.98,471.38 128.82,471.38" fill="#ff00ff"/>
<polygon points="135.1,470.6 133.18,467.72 137.02,467.72" fill="#ff00ff"/>
<polygon points="143.3,467.07 141.38,464.19 145.22,464.19" fill="#ff00ff"/>
<polygon points="151.5,463.68 149.58,460.8 153.42,460.8" fill="#ff00ff"/>
<polygon points="159.7,460.42 157.78,457.54 161.62,457.54" fill="#ff00ff"/>
<polygon points="167.9,457.32 165.98,454.44 169.82,454.44" fill="#ff00ff"/>
<polygon points="176.1,454.37 174.18,451.49 178.02,451.49" fill="#ff00ff"/>
<polygon points="184.3,451.57 182.38,448.69 186.22,448.69" fill="#ff00ff"/>
<polygon points="192.5,448.92 190.58,446.04 194.42,446.04" fill="#ff00ff"/>
<polygon points="200.7,446.43 198.78,443.55 202.62,443.55" fill="#ff00ff"/>
<polygon points="208.9,444.08 206.98,441.2 210.82,441.2" fill="#ff00ff"/>
<polygon points="217.1,441.89 215.18,439.01 219.02,439.01" fill="#ff00ff"/>
<polygon points="225.3,439.83 223.38,436.95 227.22,436.95" fill="#ff00ff"/>
<polygon points="233.5,437.92 231.58,435.04 235.42,435.04" fill="#ff00ff"/>
<polygon points="69.5,498.78 71.61,500.7 69.5,502.62 67.39,500.7" fill="#008000"/>
<polygon points="77.7,494.32 79.81,496.24 77.7,498.16 75.59,496.24" fill="#008000"/>
<polygon points="85.9,489.87 88.01,491.79 85.9,493.71 83.79,491.79" fill="#008000"/>
<polygon points="94.1,485.46 96.21,487.38 94.1,489.3 91.99,487.38" fill="#008000"/>
<polygon points="102.3,481.09 104.41,483.01 102.3,484.93 100.19,483.01" fill="#008000"/>
<polygon points="110.5,476.78 112.61,478.7 110.5,480.62 108.39,478.7" fill="#008000"/>
<polygon points="118.7,472.54 120.81,474.46 118.7,476.38 116.59,474.46" fill="#008000"/>
<polygon points="126.9,468.38 129.01,470.3 126.9,472.22 124.79,470.3" fill="#008000"/>
<polygon points="135.1,464.32 137.21,466.24 135.1,468.16 132.99,466.24" fill="#008000"/>
<polygon points="143.3,460.37 145.41,462.29 143.3,464.21 141.19,462.29" fill="#008000"/>
<polygon points="151.5,456.53 153.61,458.45 151.5,460.37 149.39,458.45" fill="#008000"/>
<polygon points="159.7,452.81 161.81,454.73 159.7,456.65 157.59,454.73" fill="#008000"/>
<polygon points="167.9,449.22 170.01,451.14 167.9,453.06 165.79,451.14" fill="#008000"/>
<polygon points="176.1,445.77 178.21,447.69 176.1,449.61 173.99,447.69" fill="#008000"/>
<polygon points="184.3,442.45 186.41,444.37 184.3,446.29 182.19,444.37" fill="#008000"/>
<polygon points="192.5,439.27 194.61,441.19 192.5,443.11 190.39,441.19" fill="#008000"/>
<polygon points="200.7,436.23 202.81,438.15 200.7,440.07 198.59,438.15" fill="#008000"/>
<polygon points="208.9,433.34 211.01,435.26 208.9,437.18 206.79,435.26" fill="#008000"/>
<polygon points="217.1,430.58 219.21,432.5 217.1,434.42 214.99,432.5" fill="#008000"/>
<polygon points="225.3,427.97 227.41,429.89 225.3,431.81 223.19,429.89" fill="#008000"/>
<polygon points="233.5,425.5 235.61,427.42 233.5,429.34 231.39,427.42" fill="#008000"/>
<rect x="53.4" y="392.7" width="196.1" height="108.2" fill="none" stroke="#5e5e5e" stroke-width="1.1"/>
<line x1="53.4" y1="500.7" x2="56.4" y2="500.7" stroke="#5e5e5e" stroke-width="0.9"/>
<line x1="53.4" y1="473.7" x2="56.4" y2="473.7" stroke="#5e5e5e" stroke-width="0.9"/>
<line x1="53.4" y1="446.7" x2="56.4" y2="446.7" stroke="#5e5e5e" stroke-width="0.9"/>
<line x1="53.4" y1="419.7" x2="56.4" y2="419.7" stroke="#5e5e5e" stroke-width="0.9"/>
<line x1="53.4" y1="392.7" x2="56.4" y2="392.7" stroke="#5e5e5e" stroke-width="0.9"/>
<line x1="69.5" y1="500.9" x2="69.5" y2="498.7" stroke="#5e5e5e" stroke-width="0.9"/>
<line x1="90" y1="500.9" x2="90" y2="499.4" stroke="#5e5e5e" stroke-width="0.9"/>
<line x1="110.5" y1="500.9" x2="110.5" y2="498.7" stroke="#5e5e5e" stroke-width="0.9"/>
<line x1="131" y1="500.9" x2="131" y2="499.4" stroke="#5e5e5e" stroke-width="0.9"/>
<line x1="151.5" y1="500.9" x2="151.5" y2="498.7" stroke="#5e5e5e" stroke-width="0.9"/>
<line x1="172" y1="500.9" x2="172" y2="499.4" stroke="#5e5e5e" stroke-width="0.9"/>
<line x1="192.5" y1="500.9" x2="192.5" y2="498.7" stroke="#5e5e5e" stroke-width="0.9"/>
<line x1="213" y1="500.9" x2="213" y2="499.4" stroke="#5e5e5e" stroke-width="0.9"/>
<line x1="233.5" y1="500.9" x2="233.5" y2="498.7" stroke="#5e5e5e" stroke-width="0.9"/>
<text x="50" y="504.3" font-size="7" text-anchor="end" textLength="14" lengthAdjust="spacingAndGlyphs">0.0</text>
<text x="43.2" y="474.5" font-size="5" textLength="6.8" lengthAdjust="spacingAndGlyphs">−5</text>
<text x="13.3" y="477.3" font-size="7" textLength="29.5" lengthAdjust="spacingAndGlyphs">5. 0x10</text>
<text x="43.2" y="447.5" font-size="5" textLength="6.8" lengthAdjust="spacingAndGlyphs">−4</text>
<text x="13.3" y="450.3" font-size="7" textLength="29.5" lengthAdjust="spacingAndGlyphs">1. 0x10</text>
<text x="43.2" y="420.5" font-size="5" textLength="6.8" lengthAdjust="spacingAndGlyphs">−4</text>
<text x="13.3" y="423.3" font-size="7" textLength="29.5" lengthAdjust="spacingAndGlyphs">1. 5x10</text>
<text x="43.2" y="393.5" font-size="5" textLength="6.8" lengthAdjust="spacingAndGlyphs">−4</text>
<text x="13.3" y="396.3" font-size="7" textLength="29.5" lengthAdjust="spacingAndGlyphs">2. 0x10</text>
<text x="69.5" y="508.6" font-size="7" text-anchor="middle" textLength="4.8" lengthAdjust="spacingAndGlyphs">0</text>
<text x="110.5" y="508.6" font-size="7" text-anchor="middle" textLength="4.8" lengthAdjust="spacingAndGlyphs">5</text>
<text x="151.5" y="508.6" font-size="7" text-anchor="middle" textLength="9.6" lengthAdjust="spacingAndGlyphs">10</text>
<text x="192.5" y="508.6" font-size="7" text-anchor="middle" textLength="9.6" lengthAdjust="spacingAndGlyphs">15</text>
<text x="233.5" y="508.6" font-size="7" text-anchor="middle" textLength="9.6" lengthAdjust="spacingAndGlyphs">20</text>
<text x="139.2" y="513.2" font-size="7.1" textLength="4.5" lengthAdjust="spacingAndGlyphs">V</text>
<text x="144.6" y="515" font-size="5.2" textLength="4.5" lengthAdjust="spacingAndGlyphs">D</text>
<text x="151" y="512.9" font-size="7.6" textLength="13.1" lengthAdjust="spacingAndGlyphs">(V)</text>
<text transform="translate(10.6,449.3) rotate(-90)" font-size="8.3" textLength="2" lengthAdjust="spacingAndGlyphs">I</text>
<text transform="translate(13.1,447.1) rotate(-90)" font-size="7" textLength="2.8" lengthAdjust="spacingAndGlyphs">D</text>
<text transform="translate(10.4,443) rotate(-90)" font-size="7.5" stroke="#000" stroke-width="0.35" textLength="9.1" lengthAdjust="spacingAndGlyphs">(A)</text>
<line x1="58.6" y1="401" x2="81.9" y2="401" stroke="#808080" stroke-width="1"/>
<rect x="68.72" y="399.78" width="3.17" height="2.45" fill="#000000"/>
<text x="87.1" y="403.54" font-size="7.8" textLength="6" lengthAdjust="spacingAndGlyphs">V</text>
<text x="92.1" y="406.14" font-size="4.84" textLength="4.68" lengthAdjust="spacingAndGlyphs">G</text>
<rect x="102.7" y="399.25" width="6.4" height="1.25" fill="#777"/>
<rect x="102.7" y="401.5" width="6.4" height="1.25" fill="#777"/>
<text x="126.4" y="403.54" font-size="7.8" text-anchor="end" textLength="5.85" lengthAdjust="spacingAndGlyphs">0</text>
<text x="132" y="403.54" font-size="7.8" textLength="6" lengthAdjust="spacingAndGlyphs">V</text>
<line x1="58.6" y1="410.7" x2="81.9" y2="410.7" stroke="#ff6a6a" stroke-width="1"/>
<ellipse cx="70.3" cy="410.7" rx="1.58" ry="1.37" fill="#ff0000"/>
<text x="87.1" y="413.24" font-size="7.8" textLength="6" lengthAdjust="spacingAndGlyphs">V</text>
<text x="92.1" y="415.84" font-size="4.84" textLength="4.68" lengthAdjust="spacingAndGlyphs">G</text>
<rect x="102.7" y="408.95" width="6.4" height="1.25" fill="#777"/>
<rect x="102.7" y="411.2" width="6.4" height="1.25" fill="#777"/>
<text x="126.4" y="413.24" font-size="7.8" text-anchor="end" textLength="5.85" lengthAdjust="spacingAndGlyphs">5</text>
<text x="132" y="413.24" font-size="7.8" textLength="6" lengthAdjust="spacingAndGlyphs">V</text>
<line x1="58.6" y1="420.2" x2="81.9" y2="420.2" stroke="#7070ff" stroke-width="1"/>
<polygon points="70.3,418.77 68.57,421.37 72.03,421.37" fill="#0000ff"/>
<text x="87.1" y="422.74" font-size="7.8" textLength="6" lengthAdjust="spacingAndGlyphs">V</text>
<text x="92.1" y="425.34" font-size="4.84" textLength="4.68" lengthAdjust="spacingAndGlyphs">G</text>
<rect x="102.7" y="418.45" width="6.4" height="1.25" fill="#777"/>
<rect x="102.7" y="420.7" width="6.4" height="1.25" fill="#777"/>
<text x="126.4" y="422.74" font-size="7.8" text-anchor="end" textLength="11.7" lengthAdjust="spacingAndGlyphs">10</text>
<text x="132" y="422.74" font-size="7.8" textLength="6" lengthAdjust="spacingAndGlyphs">V</text>
<line x1="58.6" y1="429.8" x2="81.9" y2="429.8" stroke="#ff70ff" stroke-width="1"/>
<polygon points="70.3,431.23 68.57,428.63 72.03,428.63" fill="#ff00ff"/>
<text x="87.1" y="432.34" font-size="7.8" textLength="6" lengthAdjust="spacingAndGlyphs">V</text>
<text x="92.1" y="434.94" font-size="4.84" textLength="4.68" lengthAdjust="spacingAndGlyphs">G</text>
<rect x="102.7" y="428.05" width="6.4" height="1.25" fill="#777"/>
<rect x="102.7" y="430.3" width="6.4" height="1.25" fill="#777"/>
<text x="126.4" y="432.34" font-size="7.8" text-anchor="end" textLength="11.7" lengthAdjust="spacingAndGlyphs">15</text>
<text x="132" y="432.34" font-size="7.8" textLength="6" lengthAdjust="spacingAndGlyphs">V</text>
<line x1="58.6" y1="439.5" x2="81.9" y2="439.5" stroke="#55aa55" stroke-width="1"/>
<polygon points="70.3,437.77 72.2,439.5 70.3,441.23 68.4,439.5" fill="#008000"/>
<text x="87.1" y="442.04" font-size="7.8" textLength="6" lengthAdjust="spacingAndGlyphs">V</text>
<text x="92.1" y="444.64" font-size="4.84" textLength="4.68" lengthAdjust="spacingAndGlyphs">G</text>
<rect x="102.7" y="437.75" width="6.4" height="1.25" fill="#777"/>
<rect x="102.7" y="440" width="6.4" height="1.25" fill="#777"/>
<text x="126.4" y="442.04" font-size="7.8" text-anchor="end" textLength="11.7" lengthAdjust="spacingAndGlyphs">20</text>
<text x="132" y="442.04" font-size="7.8" textLength="6" lengthAdjust="spacingAndGlyphs">V</text>
<path d="M316.3,95.5 C317.15,96.7 319.35,100.73 321.4,102.7 C323.45,104.67 325.27,105.93 328.6,107.3 C331.93,108.67 336.85,110 341.4,110.9 C345.95,111.8 351.37,112.25 355.9,112.7 C360.43,113.15 365.27,113.67 368.6,113.6 C371.93,113.53 373.75,112.98 375.9,112.3 C378.05,111.62 379.73,110.97 381.5,109.5 C383.27,108.03 385.02,105.78 386.5,103.5 C387.98,101.22 389.12,98.57 390.4,95.8 C391.68,93.03 392.72,90.08 394.2,86.9 C395.68,83.72 397.4,79.88 399.3,76.7 C401.2,73.52 403.48,70.55 405.6,67.8 C407.72,65.05 409.6,62.47 412,60.2 C414.4,57.93 417.33,56.03 420,54.2 C422.67,52.37 425.33,50.68 428,49.2 C430.67,47.72 432.33,46.75 436,45.3 C439.67,43.85 445.67,41.78 450,40.5 C454.33,39.22 458.17,38.45 462,37.6 C465.83,36.75 471.17,35.77 473,35.4" fill="none" stroke="#ff0000" stroke-width="3" stroke-linejoin="round" stroke-linecap="round"/>
<path d="M315.9,109.5 C320.15,109.98 334.13,111.4 341.4,112.4 C348.67,113.4 355.07,114.7 359.5,115.5 C363.93,116.3 365.87,116.85 368,117.2 C370.13,117.55 371.1,117.97 372.3,117.6 C373.5,117.23 374.48,116.18 375.2,115 C375.92,113.82 375.98,112.42 376.6,110.5 C377.22,108.58 377.88,106.17 378.9,103.5 C379.92,100.83 381.22,97.48 382.7,94.5 C384.18,91.52 385.88,88.77 387.8,85.6 C389.72,82.43 391.87,78.68 394.2,75.5 C396.53,72.32 399.25,69.27 401.8,66.5 C404.35,63.73 406.73,61.33 409.5,58.9 C412.27,56.47 414.98,54.13 418.4,51.9 C421.82,49.67 425.73,47.32 430,45.5 C434.27,43.68 439.33,42.25 444,41 C448.67,39.75 453.17,38.93 458,38 C462.83,37.07 470.5,35.83 473,35.4" fill="none" stroke="#ff0000" stroke-width="3" stroke-linejoin="round" stroke-linecap="round"/>
<path d="M316,142.3 C323.33,142.3 348.5,142.33 360,142.3 C371.5,142.27 379.33,142.25 385,142.1 C390.67,141.95 391.17,141.82 394,141.4 C396.83,140.98 399.33,140.33 402,139.6 C404.67,138.87 405.33,138.72 410,137 C414.67,135.28 423.33,131.78 430,129.3 C436.67,126.82 443,124.45 450,122.1 C457,119.75 468.33,116.35 472,115.2" fill="none" stroke="#0000ff" stroke-width="2.8" stroke-linejoin="round" stroke-linecap="round"/>
<line x1="399" y1="143" x2="477" y2="114.2" stroke="#00e000" stroke-width="0.9"/>
<line x1="298" y1="8.9" x2="491.5" y2="8.9" stroke="#5e5e5e" stroke-width="1.1"/>
<line x1="298" y1="142.8" x2="491.5" y2="142.8" stroke="#5e5e5e" stroke-width="1.1"/>
<line x1="317.8" y1="142.8" x2="317.8" y2="140.2" stroke="#5e5e5e" stroke-width="0.9"/>
<line x1="337.05" y1="142.8" x2="337.05" y2="141" stroke="#5e5e5e" stroke-width="0.9"/>
<line x1="356.3" y1="142.8" x2="356.3" y2="140.2" stroke="#5e5e5e" stroke-width="0.9"/>
<line x1="375.55" y1="142.8" x2="375.55" y2="141" stroke="#5e5e5e" stroke-width="0.9"/>
<line x1="394.8" y1="142.8" x2="394.8" y2="140.2" stroke="#5e5e5e" stroke-width="0.9"/>
<line x1="414.05" y1="142.8" x2="414.05" y2="141" stroke="#5e5e5e" stroke-width="0.9"/>
<line x1="433.3" y1="142.8" x2="433.3" y2="140.2" stroke="#5e5e5e" stroke-width="0.9"/>
<line x1="452.55" y1="142.8" x2="452.55" y2="141" stroke="#5e5e5e" stroke-width="0.9"/>
<line x1="471.8" y1="142.8" x2="471.8" y2="140.2" stroke="#5e5e5e" stroke-width="0.9"/>
<line x1="298" y1="8.4" x2="298" y2="143.3" stroke="#ff0000" stroke-width="1.25"/>
<line x1="298" y1="142.8" x2="301" y2="142.8" stroke="#ff0000" stroke-width="1"/>
<line x1="298" y1="129.41" x2="300" y2="129.41" stroke="#ff0000" stroke-width="1"/>
<line x1="298" y1="116.02" x2="301" y2="116.02" stroke="#ff0000" stroke-width="1"/>
<line x1="298" y1="102.63" x2="300" y2="102.63" stroke="#ff0000" stroke-width="1"/>
<line x1="298" y1="89.24" x2="301" y2="89.24" stroke="#ff0000" stroke-width="1"/>
<line x1="298" y1="75.85" x2="300" y2="75.85" stroke="#ff0000" stroke-width="1"/>
<line x1="298" y1="62.46" x2="301" y2="62.46" stroke="#ff0000" stroke-width="1"/>
<line x1="298" y1="49.07" x2="300" y2="49.07" stroke="#ff0000" stroke-width="1"/>
<line x1="298" y1="35.68" x2="301" y2="35.68" stroke="#ff0000" stroke-width="1"/>
<line x1="298" y1="22.29" x2="300" y2="22.29" stroke="#ff0000" stroke-width="1"/>
<line x1="298" y1="8.9" x2="301" y2="8.9" stroke="#ff0000" stroke-width="1"/>
<line x1="298" y1="138.77" x2="299.7" y2="138.77" stroke="#ff2020" stroke-width="0.7"/>
<line x1="298" y1="136.41" x2="299.7" y2="136.41" stroke="#ff2020" stroke-width="0.7"/>
<line x1="298" y1="134.74" x2="299.7" y2="134.74" stroke="#ff2020" stroke-width="0.7"/>
<line x1="298" y1="133.44" x2="299.7" y2="133.44" stroke="#ff2020" stroke-width="0.7"/>
<line x1="298" y1="132.38" x2="299.7" y2="132.38" stroke="#ff2020" stroke-width="0.7"/>
<line x1="298" y1="131.48" x2="299.7" y2="131.48" stroke="#ff2020" stroke-width="0.7"/>
<line x1="298" y1="130.71" x2="299.7" y2="130.71" stroke="#ff2020" stroke-width="0.7"/>
<line x1="298" y1="130.02" x2="299.7" y2="130.02" stroke="#ff2020" stroke-width="0.7"/>
<line x1="298" y1="125.38" x2="299.7" y2="125.38" stroke="#ff2020" stroke-width="0.7"/>
<line x1="298" y1="123.02" x2="299.7" y2="123.02" stroke="#ff2020" stroke-width="0.7"/>
<line x1="298" y1="121.35" x2="299.7" y2="121.35" stroke="#ff2020" stroke-width="0.7"/>
<line x1="298" y1="120.05" x2="299.7" y2="120.05" stroke="#ff2020" stroke-width="0.7"/>
<line x1="298" y1="118.99" x2="299.7" y2="118.99" stroke="#ff2020" stroke-width="0.7"/>
<line x1="298" y1="118.09" x2="299.7" y2="118.09" stroke="#ff2020" stroke-width="0.7"/>
<line x1="298" y1="117.32" x2="299.7" y2="117.32" stroke="#ff2020" stroke-width="0.7"/>
<line x1="298" y1="116.63" x2="299.7" y2="116.63" stroke="#ff2020" stroke-width="0.7"/>
<line x1="298" y1="111.99" x2="299.7" y2="111.99" stroke="#ff2020" stroke-width="0.7"/>
<line x1="298" y1="109.63" x2="299.7" y2="109.63" stroke="#ff2020" stroke-width="0.7"/>
<line x1="298" y1="107.96" x2="299.7" y2="107.96" stroke="#ff2020" stroke-width="0.7"/>
<line x1="298" y1="106.66" x2="299.7" y2="106.66" stroke="#ff2020" stroke-width="0.7"/>
<line x1="298" y1="105.6" x2="299.7" y2="105.6" stroke="#ff2020" stroke-width="0.7"/>
<line x1="298" y1="104.7" x2="299.7" y2="104.7" stroke="#ff2020" stroke-width="0.7"/>
<line x1="298" y1="103.93" x2="299.7" y2="103.93" stroke="#ff2020" stroke-width="0.7"/>
<line x1="298" y1="103.24" x2="299.7" y2="103.24" stroke="#ff2020" stroke-width="0.7"/>
<line x1="298" y1="98.6" x2="299.7" y2="98.6" stroke="#ff2020" stroke-width="0.7"/>
<line x1="298" y1="96.24" x2="299.7" y2="96.24" stroke="#ff2020" stroke-width="0.7"/>
<line x1="298" y1="94.57" x2="299.7" y2="94.57" stroke="#ff2020" stroke-width="0.7"/>
<line x1="298" y1="93.27" x2="299.7" y2="93.27" stroke="#ff2020" stroke-width="0.7"/>
<line x1="298" y1="92.21" x2="299.7" y2="92.21" stroke="#ff2020" stroke-width="0.7"/>
<line x1="298" y1="91.31" x2="299.7" y2="91.31" stroke="#ff2020" stroke-width="0.7"/>
<line x1="298" y1="90.54" x2="299.7" y2="90.54" stroke="#ff2020" stroke-width="0.7"/>
<line x1="298" y1="89.85" x2="299.7" y2="89.85" stroke="#ff2020" stroke-width="0.7"/>
<line x1="298" y1="85.21" x2="299.7" y2="85.21" stroke="#ff2020" stroke-width="0.7"/>
<line x1="298" y1="82.85" x2="299.7" y2="82.85" stroke="#ff2020" stroke-width="0.7"/>
<line x1="298" y1="81.18" x2="299.7" y2="81.18" stroke="#ff2020" stroke-width="0.7"/>
<line x1="298" y1="79.88" x2="299.7" y2="79.88" stroke="#ff2020" stroke-width="0.7"/>
<line x1="298" y1="78.82" x2="299.7" y2="78.82" stroke="#ff2020" stroke-width="0.7"/>
<line x1="298" y1="77.92" x2="299.7" y2="77.92" stroke="#ff2020" stroke-width="0.7"/>
<line x1="298" y1="77.15" x2="299.7" y2="77.15" stroke="#ff2020" stroke-width="0.7"/>
<line x1="298" y1="76.46" x2="299.7" y2="76.46" stroke="#ff2020" stroke-width="0.7"/>
<line x1="298" y1="71.82" x2="299.7" y2="71.82" stroke="#ff2020" stroke-width="0.7"/>
<line x1="298" y1="69.46" x2="299.7" y2="69.46" stroke="#ff2020" stroke-width="0.7"/>
<line x1="298" y1="67.79" x2="299.7" y2="67.79" stroke="#ff2020" stroke-width="0.7"/>
<line x1="298" y1="66.49" x2="299.7" y2="66.49" stroke="#ff2020" stroke-width="0.7"/>
<line x1="298" y1="65.43" x2="299.7" y2="65.43" stroke="#ff2020" stroke-width="0.7"/>
<line x1="298" y1="64.53" x2="299.7" y2="64.53" stroke="#ff2020" stroke-width="0.7"/>
<line x1="298" y1="63.76" x2="299.7" y2="63.76" stroke="#ff2020" stroke-width="0.7"/>
<line x1="298" y1="63.07" x2="299.7" y2="63.07" stroke="#ff2020" stroke-width="0.7"/>
<line x1="298" y1="58.43" x2="299.7" y2="58.43" stroke="#ff2020" stroke-width="0.7"/>
<line x1="298" y1="56.07" x2="299.7" y2="56.07" stroke="#ff2020" stroke-width="0.7"/>
<line x1="298" y1="54.4" x2="299.7" y2="54.4" stroke="#ff2020" stroke-width="0.7"/>
<line x1="298" y1="53.1" x2="299.7" y2="53.1" stroke="#ff2020" stroke-width="0.7"/>
<line x1="298" y1="52.04" x2="299.7" y2="52.04" stroke="#ff2020" stroke-width="0.7"/>
<line x1="298" y1="51.14" x2="299.7" y2="51.14" stroke="#ff2020" stroke-width="0.7"/>
<line x1="298" y1="50.37" x2="299.7" y2="50.37" stroke="#ff2020" stroke-width="0.7"/>
<line x1="298" y1="49.68" x2="299.7" y2="49.68" stroke="#ff2020" stroke-width="0.7"/>
<line x1="298" y1="45.04" x2="299.7" y2="45.04" stroke="#ff2020" stroke-width="0.7"/>
<line x1="298" y1="42.68" x2="299.7" y2="42.68" stroke="#ff2020" stroke-width="0.7"/>
<line x1="298" y1="41.01" x2="299.7" y2="41.01" stroke="#ff2020" stroke-width="0.7"/>
<line x1="298" y1="39.71" x2="299.7" y2="39.71" stroke="#ff2020" stroke-width="0.7"/>
<line x1="298" y1="38.65" x2="299.7" y2="38.65" stroke="#ff2020" stroke-width="0.7"/>
<line x1="298" y1="37.75" x2="299.7" y2="37.75" stroke="#ff2020" stroke-width="0.7"/>
<line x1="298" y1="36.98" x2="299.7" y2="36.98" stroke="#ff2020" stroke-width="0.7"/>
<line x1="298" y1="36.29" x2="299.7" y2="36.29" stroke="#ff2020" stroke-width="0.7"/>
<line x1="298" y1="31.65" x2="299.7" y2="31.65" stroke="#ff2020" stroke-width="0.7"/>
<line x1="298" y1="29.29" x2="299.7" y2="29.29" stroke="#ff2020" stroke-width="0.7"/>
<line x1="298" y1="27.62" x2="299.7" y2="27.62" stroke="#ff2020" stroke-width="0.7"/>
<line x1="298" y1="26.32" x2="299.7" y2="26.32" stroke="#ff2020" stroke-width="0.7"/>
<line x1="298" y1="25.26" x2="299.7" y2="25.26" stroke="#ff2020" stroke-width="0.7"/>
<line x1="298" y1="24.36" x2="299.7" y2="24.36" stroke="#ff2020" stroke-width="0.7"/>
<line x1="298" y1="23.59" x2="299.7" y2="23.59" stroke="#ff2020" stroke-width="0.7"/>
<line x1="298" y1="22.9" x2="299.7" y2="22.9" stroke="#ff2020" stroke-width="0.7"/>
<line x1="298" y1="18.26" x2="299.7" y2="18.26" stroke="#ff2020" stroke-width="0.7"/>
<line x1="298" y1="15.9" x2="299.7" y2="15.9" stroke="#ff2020" stroke-width="0.7"/>
<line x1="298" y1="14.23" x2="299.7" y2="14.23" stroke="#ff2020" stroke-width="0.7"/>
<line x1="298" y1="12.93" x2="299.7" y2="12.93" stroke="#ff2020" stroke-width="0.7"/>
<line x1="298" y1="11.87" x2="299.7" y2="11.87" stroke="#ff2020" stroke-width="0.7"/>
<line x1="298" y1="10.97" x2="299.7" y2="10.97" stroke="#ff2020" stroke-width="0.7"/>
<line x1="298" y1="10.2" x2="299.7" y2="10.2" stroke="#ff2020" stroke-width="0.7"/>
<line x1="298" y1="9.51" x2="299.7" y2="9.51" stroke="#ff2020" stroke-width="0.7"/>
<line x1="491.5" y1="8.4" x2="491.5" y2="143.3" stroke="#3a3aff" stroke-width="1"/>
<line x1="488.5" y1="142.8" x2="491.5" y2="142.8" stroke="#2a2aff" stroke-width="1"/>
<line x1="488.5" y1="116.02" x2="491.5" y2="116.02" stroke="#2a2aff" stroke-width="1"/>
<line x1="488.5" y1="89.24" x2="491.5" y2="89.24" stroke="#2a2aff" stroke-width="1"/>
<line x1="488.5" y1="62.46" x2="491.5" y2="62.46" stroke="#2a2aff" stroke-width="1"/>
<line x1="488.5" y1="35.68" x2="491.5" y2="35.68" stroke="#2a2aff" stroke-width="1"/>
<line x1="488.5" y1="8.9" x2="491.5" y2="8.9" stroke="#2a2aff" stroke-width="1"/>
<text x="286" y="144" font-size="4.8" fill="#ff0000" textLength="8.2" lengthAdjust="spacingAndGlyphs">−13</text>
<text x="276.6" y="146.3" font-size="7.4" fill="#ff0000" textLength="9" lengthAdjust="spacingAndGlyphs">10</text>
<text x="286" y="117.22" font-size="4.8" fill="#ff0000" textLength="8.2" lengthAdjust="spacingAndGlyphs">−11</text>
<text x="276.6" y="119.52" font-size="7.4" fill="#ff0000" textLength="9" lengthAdjust="spacingAndGlyphs">10</text>
<text x="288.5" y="90.44" font-size="4.8" fill="#ff0000" textLength="5.7" lengthAdjust="spacingAndGlyphs">−9</text>
<text x="279.1" y="92.74" font-size="7.4" fill="#ff0000" textLength="9" lengthAdjust="spacingAndGlyphs">10</text>
<text x="288.5" y="63.66" font-size="4.8" fill="#ff0000" textLength="5.7" lengthAdjust="spacingAndGlyphs">−7</text>
<text x="279.1" y="65.96" font-size="7.4" fill="#ff0000" textLength="9" lengthAdjust="spacingAndGlyphs">10</text>
<text x="288.5" y="36.88" font-size="4.8" fill="#ff0000" textLength="5.7" lengthAdjust="spacingAndGlyphs">−5</text>
<text x="279.1" y="39.18" font-size="7.4" fill="#ff0000" textLength="9" lengthAdjust="spacingAndGlyphs">10</text>
<text x="288.5" y="10.1" font-size="4.8" fill="#ff0000" textLength="5.7" lengthAdjust="spacingAndGlyphs">−3</text>
<text x="279.1" y="12.4" font-size="7.4" fill="#ff0000" textLength="9" lengthAdjust="spacingAndGlyphs">10</text>
<text x="494.8" y="146.1" font-size="7.6" fill="#0000ff" textLength="13.4" lengthAdjust="spacingAndGlyphs">0. 0</text>
<text x="494.8" y="119.32" font-size="7.6" fill="#0000ff" textLength="25.4" lengthAdjust="spacingAndGlyphs">3. 0x10</text>
<text x="520.6" y="116.22" font-size="4.8" fill="#0000ff" textLength="5.3" lengthAdjust="spacingAndGlyphs">−3</text>
<text x="494.8" y="92.54" font-size="7.6" fill="#0000ff" textLength="25.4" lengthAdjust="spacingAndGlyphs">6. 0x10</text>
<text x="520.6" y="89.44" font-size="4.8" fill="#0000ff" textLength="5.3" lengthAdjust="spacingAndGlyphs">−3</text>
<text x="494.8" y="65.76" font-size="7.6" fill="#0000ff" textLength="25.4" lengthAdjust="spacingAndGlyphs">9. 0x10</text>
<text x="520.6" y="62.66" font-size="4.8" fill="#0000ff" textLength="5.3" lengthAdjust="spacingAndGlyphs">−3</text>
<text x="494.8" y="38.98" font-size="7.6" fill="#0000ff" textLength="25.4" lengthAdjust="spacingAndGlyphs">1. 2x10</text>
<text x="520.6" y="35.88" font-size="4.8" fill="#0000ff" textLength="5.3" lengthAdjust="spacingAndGlyphs">−2</text>
<text x="494.8" y="12.2" font-size="7.6" fill="#0000ff" textLength="25.4" lengthAdjust="spacingAndGlyphs">1. 5x10</text>
<text x="520.6" y="9.1" font-size="4.8" fill="#0000ff" textLength="5.3" lengthAdjust="spacingAndGlyphs">−2</text>
<rect x="307.75" y="150.28" width="5.3" height="1.2" fill="#000"/>
<text x="314.05" y="153.7" font-size="9.5" textLength="11.8" lengthAdjust="spacingAndGlyphs">20</text>
<rect x="346.25" y="150.28" width="5.3" height="1.2" fill="#000"/>
<text x="352.55" y="153.7" font-size="9.5" textLength="11.8" lengthAdjust="spacingAndGlyphs">10</text>
<text x="394.8" y="153.7" font-size="9.5" text-anchor="middle" textLength="5.9" lengthAdjust="spacingAndGlyphs">0</text>
<text x="433.3" y="153.7" font-size="9.5" text-anchor="middle" textLength="11.8" lengthAdjust="spacingAndGlyphs">10</text>
<text x="471.8" y="153.7" font-size="9.5" text-anchor="middle" textLength="11.8" lengthAdjust="spacingAndGlyphs">20</text>
<text x="382.5" y="159.5" font-size="9" textLength="5.5" lengthAdjust="spacingAndGlyphs">V</text>
<text x="388" y="162" font-size="6.1" textLength="4.7" lengthAdjust="spacingAndGlyphs">G</text>
<text x="394.2" y="159" font-size="8.9" textLength="13.8" lengthAdjust="spacingAndGlyphs">(V)</text>
<text transform="translate(274.1,82) rotate(-90)" font-size="13.5" fill="#ff0000" textLength="3.6" lengthAdjust="spacingAndGlyphs">I</text>
<text transform="translate(277,77.2) rotate(-90)" font-size="8.5" fill="#ff0000" textLength="3.4" lengthAdjust="spacingAndGlyphs">D</text>
<text transform="translate(272.5,72.7) rotate(-90)" font-size="11.2" fill="#ff0000" stroke="#ff0000" stroke-width="0.35" textLength="9.9" lengthAdjust="spacingAndGlyphs">(A)</text>
<text transform="translate(539.5,96.1) rotate(-90)" font-size="13" fill="#0000ff" textLength="3.6" lengthAdjust="spacingAndGlyphs">I</text>
<text transform="translate(542.7,92.7) rotate(-90)" font-size="7.5" fill="#0000ff" textLength="4.3" lengthAdjust="spacingAndGlyphs">D</text>
<text transform="translate(533.6,88.2) rotate(-90)" font-size="7.6" fill="#0000ff" textLength="8.9" lengthAdjust="spacingAndGlyphs">1/2</text>
<text transform="translate(537.8,80.2) rotate(-90)" font-size="12.8" fill="#0000ff" stroke="#0000ff" stroke-width="0.35" textLength="9.9" lengthAdjust="spacingAndGlyphs">(A</text>
<text transform="translate(534.8,70.5) rotate(-90)" font-size="7.6" fill="#0000ff" textLength="10.7" lengthAdjust="spacingAndGlyphs">1/2</text>
<text transform="translate(537.8,60.2) rotate(-90)" font-size="12.8" fill="#0000ff" stroke="#0000ff" stroke-width="0.35" textLength="4.5" lengthAdjust="spacingAndGlyphs">)</text>
<path d="M318.9,287.1 C319.67,287.55 321.9,288.85 323.5,289.8 C325.1,290.75 327.67,292.3 328.5,292.8" fill="none" stroke="#ff0000" stroke-width="2.6" stroke-linejoin="round" stroke-linecap="round"/>
<path d="M318.9,295.4 C319.67,295.27 321.9,294.9 323.5,294.6 C325.1,294.3 327.67,293.77 328.5,293.6" fill="none" stroke="#ff0000" stroke-width="2.6" stroke-linejoin="round" stroke-linecap="round"/>
<path d="M328,293 C328.67,293.42 330.67,295.3 332,295.5 C333.33,295.7 334.67,294.15 336,294.2 C337.33,294.25 338.67,295.67 340,295.8 C341.33,295.93 342.67,294.93 344,295 C345.33,295.07 346.83,296.37 348,296.2 C349.17,296.03 350,294.57 351,294 C352,293.43 352.92,292.93 354,292.8 C355.08,292.67 356.5,292.75 357.5,293.2 C358.5,293.65 359.08,294.87 360,295.5 C360.92,296.13 362,296.83 363,297 C364,297.17 365.5,296.58 366,296.5" fill="none" stroke="#ff0000" stroke-width="3" stroke-linejoin="round" stroke-linecap="round"/>
<path d="M328,294.5 C328.5,295.05 329.83,296.95 331,297.8 C332.17,298.65 333.67,299.53 335,299.6 C336.33,299.67 337.83,298.13 339,298.2 C340.17,298.27 340.83,299.87 342,300 C343.17,300.13 344.83,298.97 346,299 C347.17,299.03 348,300.28 349,300.2 C350,300.12 350.83,298.73 352,298.5 C353.17,298.27 354.67,298.88 356,298.8 C357.33,298.72 358.67,298.03 360,298 C361.33,297.97 363.33,298.5 364,298.6" fill="none" stroke="#ff0000" stroke-width="2.6" stroke-linejoin="round" stroke-linecap="round"/>
<rect x="347.1" y="300.7" width="2.2" height="2" fill="#ff0000"/>
<rect x="348.4" y="303.9" width="2.2" height="2" fill="#ff0000"/>
<rect x="349" y="306.5" width="2.2" height="2" fill="#ff0000"/>
<rect x="351.5" y="312.8" width="2.2" height="2" fill="#ff0000"/>
<rect x="353.4" y="316" width="2.2" height="2" fill="#ff0000"/>
<rect x="355.4" y="300.7" width="2.2" height="2" fill="#ff0000"/>
<line x1="355.3" y1="300.5" x2="355.3" y2="316.5" stroke="#ff0000" stroke-width="0.9"/>
<path d="M365.3,292.5 C365.8,290.4 367.22,283.58 368.3,279.9 C369.38,276.22 370.62,273.17 371.8,270.4 C372.98,267.63 374.22,265.47 375.4,263.3 C376.58,261.13 377.53,259.37 378.9,257.4 C380.27,255.43 381.83,253.37 383.6,251.5 C385.37,249.63 387.53,247.77 389.5,246.2 C391.47,244.63 392.83,243.57 395.4,242.1 C397.97,240.63 401.75,238.7 404.9,237.4 C408.05,236.1 408.83,235.8 414.3,234.3 C419.77,232.8 430.63,229.85 437.7,228.4 C444.77,226.95 450.2,226.5 456.7,225.6 C463.2,224.7 473.37,223.43 476.7,223 L476.7,225.2 C473.37,225.6 463.2,226.7 456.7,227.6 C450.2,228.5 443.82,229.13 437.7,230.6 C431.58,232.07 423.9,235.08 420,236.4 C416.1,237.72 416.82,237.45 414.3,238.5 C411.78,239.55 408.05,241.02 404.9,242.7 C401.75,244.38 397.97,246.73 395.4,248.6 C392.83,250.47 391.47,251.83 389.5,253.9 C387.53,255.97 385.37,258.43 383.6,261 C381.83,263.57 380.27,266.55 378.9,269.3 C377.53,272.05 376.58,274.37 375.4,277.5 C374.22,280.63 373.38,284.55 371.8,288.1 C370.22,291.65 366.88,297.02 365.9,298.8 Z" fill="#ff0000" stroke="#ff0000" stroke-width="0.8" stroke-linejoin="round"/>
<path d="M368.2,293.5 C368.6,292 369.7,287.5 370.6,284.5 C371.5,281.5 372.53,278.33 373.6,275.5 C374.67,272.67 375.93,269.75 377,267.5 C378.07,265.25 379.5,262.92 380,262" fill="none" stroke="#fff" stroke-width="0.75" stroke-linejoin="round" stroke-linecap="round"/>
<rect x="368.2" y="279.5" width="2.4" height="0.6" fill="#fff"/>
<rect x="367.48" y="282.5" width="2.4" height="0.6" fill="#fff"/>
<rect x="366.77" y="285.5" width="2.4" height="0.6" fill="#fff"/>
<rect x="366.05" y="288.5" width="2.4" height="0.6" fill="#fff"/>
<rect x="365.34" y="291.5" width="2.4" height="0.6" fill="#fff"/>
<rect x="364.62" y="294.5" width="2.4" height="0.6" fill="#fff"/>
<path d="M318.6,329.3 C325.5,329.3 351.65,329.35 360,329.3 C368.35,329.25 366.2,329.25 368.7,329 C371.2,328.75 372.82,328.38 375,327.8 C377.18,327.22 378.85,326.8 381.8,325.5 C384.75,324.2 389.07,322.18 392.7,320 C396.33,317.82 398.13,316.03 403.6,312.4 C409.07,308.77 418.22,302.87 425.5,298.2 C432.78,293.53 439.12,289.13 447.3,284.4 C455.48,279.67 470.05,272.23 474.6,269.8" fill="none" stroke="#0000ff" stroke-width="2.8" stroke-linejoin="round" stroke-linecap="round"/>
<line x1="382.9" y1="329.8" x2="475.6" y2="268.7" stroke="#00e000" stroke-width="0.9"/>
<line x1="300.9" y1="208.5" x2="494.3" y2="208.5" stroke="#5e5e5e" stroke-width="1.1"/>
<line x1="300.9" y1="329.2" x2="494.3" y2="329.2" stroke="#5e5e5e" stroke-width="1.1"/>
<line x1="321" y1="329.2" x2="321" y2="326.6" stroke="#5e5e5e" stroke-width="0.9"/>
<line x1="340.3" y1="329.2" x2="340.3" y2="327.4" stroke="#5e5e5e" stroke-width="0.9"/>
<line x1="359.6" y1="329.2" x2="359.6" y2="326.6" stroke="#5e5e5e" stroke-width="0.9"/>
<line x1="378.9" y1="329.2" x2="378.9" y2="327.4" stroke="#5e5e5e" stroke-width="0.9"/>
<line x1="398.2" y1="329.2" x2="398.2" y2="326.6" stroke="#5e5e5e" stroke-width="0.9"/>
<line x1="417.5" y1="329.2" x2="417.5" y2="327.4" stroke="#5e5e5e" stroke-width="0.9"/>
<line x1="436.8" y1="329.2" x2="436.8" y2="326.6" stroke="#5e5e5e" stroke-width="0.9"/>
<line x1="456.1" y1="329.2" x2="456.1" y2="327.4" stroke="#5e5e5e" stroke-width="0.9"/>
<line x1="475.4" y1="329.2" x2="475.4" y2="326.6" stroke="#5e5e5e" stroke-width="0.9"/>
<line x1="300.9" y1="208" x2="300.9" y2="329.7" stroke="#ff0000" stroke-width="1.25"/>
<line x1="300.9" y1="329.2" x2="303.9" y2="329.2" stroke="#ff0000" stroke-width="1"/>
<line x1="300.9" y1="317.13" x2="302.9" y2="317.13" stroke="#ff0000" stroke-width="1"/>
<line x1="300.9" y1="305.06" x2="303.9" y2="305.06" stroke="#ff0000" stroke-width="1"/>
<line x1="300.9" y1="292.99" x2="302.9" y2="292.99" stroke="#ff0000" stroke-width="1"/>
<line x1="300.9" y1="280.92" x2="303.9" y2="280.92" stroke="#ff0000" stroke-width="1"/>
<line x1="300.9" y1="268.85" x2="302.9" y2="268.85" stroke="#ff0000" stroke-width="1"/>
<line x1="300.9" y1="256.78" x2="303.9" y2="256.78" stroke="#ff0000" stroke-width="1"/>
<line x1="300.9" y1="244.71" x2="302.9" y2="244.71" stroke="#ff0000" stroke-width="1"/>
<line x1="300.9" y1="232.64" x2="303.9" y2="232.64" stroke="#ff0000" stroke-width="1"/>
<line x1="300.9" y1="220.57" x2="302.9" y2="220.57" stroke="#ff0000" stroke-width="1"/>
<line x1="300.9" y1="208.5" x2="303.9" y2="208.5" stroke="#ff0000" stroke-width="1"/>
<line x1="300.9" y1="325.57" x2="302.6" y2="325.57" stroke="#ff2020" stroke-width="0.7"/>
<line x1="300.9" y1="323.44" x2="302.6" y2="323.44" stroke="#ff2020" stroke-width="0.7"/>
<line x1="300.9" y1="321.93" x2="302.6" y2="321.93" stroke="#ff2020" stroke-width="0.7"/>
<line x1="300.9" y1="320.76" x2="302.6" y2="320.76" stroke="#ff2020" stroke-width="0.7"/>
<line x1="300.9" y1="319.81" x2="302.6" y2="319.81" stroke="#ff2020" stroke-width="0.7"/>
<line x1="300.9" y1="319" x2="302.6" y2="319" stroke="#ff2020" stroke-width="0.7"/>
<line x1="300.9" y1="318.3" x2="302.6" y2="318.3" stroke="#ff2020" stroke-width="0.7"/>
<line x1="300.9" y1="317.68" x2="302.6" y2="317.68" stroke="#ff2020" stroke-width="0.7"/>
<line x1="300.9" y1="313.5" x2="302.6" y2="313.5" stroke="#ff2020" stroke-width="0.7"/>
<line x1="300.9" y1="311.37" x2="302.6" y2="311.37" stroke="#ff2020" stroke-width="0.7"/>
<line x1="300.9" y1="309.86" x2="302.6" y2="309.86" stroke="#ff2020" stroke-width="0.7"/>
<line x1="300.9" y1="308.69" x2="302.6" y2="308.69" stroke="#ff2020" stroke-width="0.7"/>
<line x1="300.9" y1="307.74" x2="302.6" y2="307.74" stroke="#ff2020" stroke-width="0.7"/>
<line x1="300.9" y1="306.93" x2="302.6" y2="306.93" stroke="#ff2020" stroke-width="0.7"/>
<line x1="300.9" y1="306.23" x2="302.6" y2="306.23" stroke="#ff2020" stroke-width="0.7"/>
<line x1="300.9" y1="305.61" x2="302.6" y2="305.61" stroke="#ff2020" stroke-width="0.7"/>
<line x1="300.9" y1="301.43" x2="302.6" y2="301.43" stroke="#ff2020" stroke-width="0.7"/>
<line x1="300.9" y1="299.3" x2="302.6" y2="299.3" stroke="#ff2020" stroke-width="0.7"/>
<line x1="300.9" y1="297.79" x2="302.6" y2="297.79" stroke="#ff2020" stroke-width="0.7"/>
<line x1="300.9" y1="296.62" x2="302.6" y2="296.62" stroke="#ff2020" stroke-width="0.7"/>
<line x1="300.9" y1="295.67" x2="302.6" y2="295.67" stroke="#ff2020" stroke-width="0.7"/>
<line x1="300.9" y1="294.86" x2="302.6" y2="294.86" stroke="#ff2020" stroke-width="0.7"/>
<line x1="300.9" y1="294.16" x2="302.6" y2="294.16" stroke="#ff2020" stroke-width="0.7"/>
<line x1="300.9" y1="293.54" x2="302.6" y2="293.54" stroke="#ff2020" stroke-width="0.7"/>
<line x1="300.9" y1="289.36" x2="302.6" y2="289.36" stroke="#ff2020" stroke-width="0.7"/>
<line x1="300.9" y1="287.23" x2="302.6" y2="287.23" stroke="#ff2020" stroke-width="0.7"/>
<line x1="300.9" y1="285.72" x2="302.6" y2="285.72" stroke="#ff2020" stroke-width="0.7"/>
<line x1="300.9" y1="284.55" x2="302.6" y2="284.55" stroke="#ff2020" stroke-width="0.7"/>
<line x1="300.9" y1="283.6" x2="302.6" y2="283.6" stroke="#ff2020" stroke-width="0.7"/>
<line x1="300.9" y1="282.79" x2="302.6" y2="282.79" stroke="#ff2020" stroke-width="0.7"/>
<line x1="300.9" y1="282.09" x2="302.6" y2="282.09" stroke="#ff2020" stroke-width="0.7"/>
<line x1="300.9" y1="281.47" x2="302.6" y2="281.47" stroke="#ff2020" stroke-width="0.7"/>
<line x1="300.9" y1="277.29" x2="302.6" y2="277.29" stroke="#ff2020" stroke-width="0.7"/>
<line x1="300.9" y1="275.16" x2="302.6" y2="275.16" stroke="#ff2020" stroke-width="0.7"/>
<line x1="300.9" y1="273.65" x2="302.6" y2="273.65" stroke="#ff2020" stroke-width="0.7"/>
<line x1="300.9" y1="272.48" x2="302.6" y2="272.48" stroke="#ff2020" stroke-width="0.7"/>
<line x1="300.9" y1="271.53" x2="302.6" y2="271.53" stroke="#ff2020" stroke-width="0.7"/>
<line x1="300.9" y1="270.72" x2="302.6" y2="270.72" stroke="#ff2020" stroke-width="0.7"/>
<line x1="300.9" y1="270.02" x2="302.6" y2="270.02" stroke="#ff2020" stroke-width="0.7"/>
<line x1="300.9" y1="269.4" x2="302.6" y2="269.4" stroke="#ff2020" stroke-width="0.7"/>
<line x1="300.9" y1="265.22" x2="302.6" y2="265.22" stroke="#ff2020" stroke-width="0.7"/>
<line x1="300.9" y1="263.09" x2="302.6" y2="263.09" stroke="#ff2020" stroke-width="0.7"/>
<line x1="300.9" y1="261.58" x2="302.6" y2="261.58" stroke="#ff2020" stroke-width="0.7"/>
<line x1="300.9" y1="260.41" x2="302.6" y2="260.41" stroke="#ff2020" stroke-width="0.7"/>
<line x1="300.9" y1="259.46" x2="302.6" y2="259.46" stroke="#ff2020" stroke-width="0.7"/>
<line x1="300.9" y1="258.65" x2="302.6" y2="258.65" stroke="#ff2020" stroke-width="0.7"/>
<line x1="300.9" y1="257.95" x2="302.6" y2="257.95" stroke="#ff2020" stroke-width="0.7"/>
<line x1="300.9" y1="257.33" x2="302.6" y2="257.33" stroke="#ff2020" stroke-width="0.7"/>
<line x1="300.9" y1="253.15" x2="302.6" y2="253.15" stroke="#ff2020" stroke-width="0.7"/>
<line x1="300.9" y1="251.02" x2="302.6" y2="251.02" stroke="#ff2020" stroke-width="0.7"/>
<line x1="300.9" y1="249.51" x2="302.6" y2="249.51" stroke="#ff2020" stroke-width="0.7"/>
<line x1="300.9" y1="248.34" x2="302.6" y2="248.34" stroke="#ff2020" stroke-width="0.7"/>
<line x1="300.9" y1="247.39" x2="302.6" y2="247.39" stroke="#ff2020" stroke-width="0.7"/>
<line x1="300.9" y1="246.58" x2="302.6" y2="246.58" stroke="#ff2020" stroke-width="0.7"/>
<line x1="300.9" y1="245.88" x2="302.6" y2="245.88" stroke="#ff2020" stroke-width="0.7"/>
<line x1="300.9" y1="245.26" x2="302.6" y2="245.26" stroke="#ff2020" stroke-width="0.7"/>
<line x1="300.9" y1="241.08" x2="302.6" y2="241.08" stroke="#ff2020" stroke-width="0.7"/>
<line x1="300.9" y1="238.95" x2="302.6" y2="238.95" stroke="#ff2020" stroke-width="0.7"/>
<line x1="300.9" y1="237.44" x2="302.6" y2="237.44" stroke="#ff2020" stroke-width="0.7"/>
<line x1="300.9" y1="236.27" x2="302.6" y2="236.27" stroke="#ff2020" stroke-width="0.7"/>
<line x1="300.9" y1="235.32" x2="302.6" y2="235.32" stroke="#ff2020" stroke-width="0.7"/>
<line x1="300.9" y1="234.51" x2="302.6" y2="234.51" stroke="#ff2020" stroke-width="0.7"/>
<line x1="300.9" y1="233.81" x2="302.6" y2="233.81" stroke="#ff2020" stroke-width="0.7"/>
<line x1="300.9" y1="233.19" x2="302.6" y2="233.19" stroke="#ff2020" stroke-width="0.7"/>
<line x1="300.9" y1="229.01" x2="302.6" y2="229.01" stroke="#ff2020" stroke-width="0.7"/>
<line x1="300.9" y1="226.88" x2="302.6" y2="226.88" stroke="#ff2020" stroke-width="0.7"/>
<line x1="300.9" y1="225.37" x2="302.6" y2="225.37" stroke="#ff2020" stroke-width="0.7"/>
<line x1="300.9" y1="224.2" x2="302.6" y2="224.2" stroke="#ff2020" stroke-width="0.7"/>
<line x1="300.9" y1="223.25" x2="302.6" y2="223.25" stroke="#ff2020" stroke-width="0.7"/>
<line x1="300.9" y1="222.44" x2="302.6" y2="222.44" stroke="#ff2020" stroke-width="0.7"/>
<line x1="300.9" y1="221.74" x2="302.6" y2="221.74" stroke="#ff2020" stroke-width="0.7"/>
<line x1="300.9" y1="221.12" x2="302.6" y2="221.12" stroke="#ff2020" stroke-width="0.7"/>
<line x1="300.9" y1="216.94" x2="302.6" y2="216.94" stroke="#ff2020" stroke-width="0.7"/>
<line x1="300.9" y1="214.81" x2="302.6" y2="214.81" stroke="#ff2020" stroke-width="0.7"/>
<line x1="300.9" y1="213.3" x2="302.6" y2="213.3" stroke="#ff2020" stroke-width="0.7"/>
<line x1="300.9" y1="212.13" x2="302.6" y2="212.13" stroke="#ff2020" stroke-width="0.7"/>
<line x1="300.9" y1="211.18" x2="302.6" y2="211.18" stroke="#ff2020" stroke-width="0.7"/>
<line x1="300.9" y1="210.37" x2="302.6" y2="210.37" stroke="#ff2020" stroke-width="0.7"/>
<line x1="300.9" y1="209.67" x2="302.6" y2="209.67" stroke="#ff2020" stroke-width="0.7"/>
<line x1="300.9" y1="209.05" x2="302.6" y2="209.05" stroke="#ff2020" stroke-width="0.7"/>
<line x1="494.3" y1="208" x2="494.3" y2="329.7" stroke="#3a3aff" stroke-width="1"/>
<line x1="491.3" y1="329.2" x2="494.3" y2="329.2" stroke="#2a2aff" stroke-width="1"/>
<line x1="491.3" y1="305.06" x2="494.3" y2="305.06" stroke="#2a2aff" stroke-width="1"/>
<line x1="491.3" y1="280.92" x2="494.3" y2="280.92" stroke="#2a2aff" stroke-width="1"/>
<line x1="491.3" y1="256.78" x2="494.3" y2="256.78" stroke="#2a2aff" stroke-width="1"/>
<line x1="491.3" y1="232.64" x2="494.3" y2="232.64" stroke="#2a2aff" stroke-width="1"/>
<line x1="491.3" y1="208.5" x2="494.3" y2="208.5" stroke="#2a2aff" stroke-width="1"/>
<text x="288.8" y="330.2" font-size="4.8" fill="#ff0000" textLength="8.2" lengthAdjust="spacingAndGlyphs">−13</text>
<text x="279.6" y="332.6" font-size="7.2" fill="#ff0000" textLength="8.8" lengthAdjust="spacingAndGlyphs">10</text>
<text x="288.8" y="306.06" font-size="4.8" fill="#ff0000" textLength="8.2" lengthAdjust="spacingAndGlyphs">−11</text>
<text x="279.6" y="308.46" font-size="7.2" fill="#ff0000" textLength="8.8" lengthAdjust="spacingAndGlyphs">10</text>
<text x="291.3" y="281.92" font-size="4.8" fill="#ff0000" textLength="5.7" lengthAdjust="spacingAndGlyphs">−9</text>
<text x="282.1" y="284.32" font-size="7.2" fill="#ff0000" textLength="8.8" lengthAdjust="spacingAndGlyphs">10</text>
<text x="291.3" y="257.78" font-size="4.8" fill="#ff0000" textLength="5.7" lengthAdjust="spacingAndGlyphs">−7</text>
<text x="282.1" y="260.18" font-size="7.2" fill="#ff0000" textLength="8.8" lengthAdjust="spacingAndGlyphs">10</text>
<text x="291.3" y="233.64" font-size="4.8" fill="#ff0000" textLength="5.7" lengthAdjust="spacingAndGlyphs">−5</text>
<text x="282.1" y="236.04" font-size="7.2" fill="#ff0000" textLength="8.8" lengthAdjust="spacingAndGlyphs">10</text>
<text x="291.3" y="209.5" font-size="4.8" fill="#ff0000" textLength="5.7" lengthAdjust="spacingAndGlyphs">−3</text>
<text x="282.1" y="211.9" font-size="7.2" fill="#ff0000" textLength="8.8" lengthAdjust="spacingAndGlyphs">10</text>
<text x="497.6" y="332.6" font-size="7.3" fill="#0000ff" textLength="13.6" lengthAdjust="spacingAndGlyphs">0. 0</text>
<text x="497.6" y="308.46" font-size="7.3" fill="#0000ff" textLength="26" lengthAdjust="spacingAndGlyphs">3. 0x10</text>
<text x="524" y="305.26" font-size="4.8" fill="#0000ff" textLength="5.2" lengthAdjust="spacingAndGlyphs">−3</text>
<text x="497.6" y="284.32" font-size="7.3" fill="#0000ff" textLength="26" lengthAdjust="spacingAndGlyphs">6. 0x10</text>
<text x="524" y="281.12" font-size="4.8" fill="#0000ff" textLength="5.2" lengthAdjust="spacingAndGlyphs">−3</text>
<text x="497.6" y="260.18" font-size="7.3" fill="#0000ff" textLength="26" lengthAdjust="spacingAndGlyphs">9. 0x10</text>
<text x="524" y="256.98" font-size="4.8" fill="#0000ff" textLength="5.2" lengthAdjust="spacingAndGlyphs">−3</text>
<text x="497.6" y="236.04" font-size="7.3" fill="#0000ff" textLength="26" lengthAdjust="spacingAndGlyphs">1. 2x10</text>
<text x="524" y="232.84" font-size="4.8" fill="#0000ff" textLength="5.2" lengthAdjust="spacingAndGlyphs">−2</text>
<text x="497.6" y="211.9" font-size="7.3" fill="#0000ff" textLength="26" lengthAdjust="spacingAndGlyphs">1. 5x10</text>
<text x="524" y="208.7" font-size="4.8" fill="#0000ff" textLength="5.2" lengthAdjust="spacingAndGlyphs">−2</text>
<rect x="310.95" y="336.56" width="5.3" height="1.2" fill="#000"/>
<text x="317.25" y="339.8" font-size="9" textLength="11.8" lengthAdjust="spacingAndGlyphs">20</text>
<rect x="349.55" y="336.56" width="5.3" height="1.2" fill="#000"/>
<text x="355.85" y="339.8" font-size="9" textLength="11.8" lengthAdjust="spacingAndGlyphs">10</text>
<text x="398.2" y="339.8" font-size="9" text-anchor="middle" textLength="5.9" lengthAdjust="spacingAndGlyphs">0</text>
<text x="436.8" y="339.8" font-size="9" text-anchor="middle" textLength="11.8" lengthAdjust="spacingAndGlyphs">10</text>
<text x="475.4" y="339.8" font-size="9" text-anchor="middle" textLength="11.8" lengthAdjust="spacingAndGlyphs">20</text>
<text x="385.3" y="344.6" font-size="8" textLength="5.8" lengthAdjust="spacingAndGlyphs">V</text>
<text x="390.9" y="347" font-size="5.8" textLength="4.1" lengthAdjust="spacingAndGlyphs">G</text>
<text x="397.3" y="344.2" font-size="7.7" textLength="13.1" lengthAdjust="spacingAndGlyphs">(V)</text>
<text transform="translate(276.4,274.2) rotate(-90)" font-size="12.6" fill="#ff0000" textLength="3.1" lengthAdjust="spacingAndGlyphs">I</text>
<text transform="translate(279.9,271.2) rotate(-90)" font-size="8.7" fill="#ff0000" textLength="3.1" lengthAdjust="spacingAndGlyphs">D</text>
<text transform="translate(275.2,266.6) rotate(-90)" font-size="12" fill="#ff0000" stroke="#ff0000" stroke-width="0.35" textLength="9.7" lengthAdjust="spacingAndGlyphs">(A)</text>
<text transform="translate(542.7,279.6) rotate(-90)" font-size="14" fill="#0000ff" textLength="3.6" lengthAdjust="spacingAndGlyphs">I</text>
<text transform="translate(546.2,276.6) rotate(-90)" font-size="7" fill="#0000ff" textLength="3.8" lengthAdjust="spacingAndGlyphs">D</text>
<text transform="translate(536.5,273.2) rotate(-90)" font-size="7.8" fill="#0000ff" textLength="7.7" lengthAdjust="spacingAndGlyphs">1/2</text>
<text transform="translate(540.9,265.5) rotate(-90)" font-size="12.5" fill="#0000ff" stroke="#0000ff" stroke-width="0.35" textLength="9.1" lengthAdjust="spacingAndGlyphs">(A</text>
<text transform="translate(537.4,256.8) rotate(-90)" font-size="7.8" fill="#0000ff" textLength="9" lengthAdjust="spacingAndGlyphs">1/2</text>
<text transform="translate(540.9,248.2) rotate(-90)" font-size="12.5" fill="#0000ff" stroke="#0000ff" stroke-width="0.35" textLength="4.5" lengthAdjust="spacingAndGlyphs">)</text>
<path d="M315,453.2 C315.75,451.98 317.83,448.48 319.5,445.9 C321.17,443.32 322.87,440.43 325,437.7 C327.13,434.97 329.57,431.92 332.3,429.5 C335.03,427.08 338.37,425.02 341.4,423.2 C344.43,421.38 347.48,419.97 350.5,418.6 C353.52,417.23 356.48,416.05 359.5,415 C362.52,413.95 365.57,413.15 368.6,412.3 C371.63,411.45 374.67,410.67 377.7,409.9 C380.73,409.13 383.77,408.3 386.8,407.7 C389.83,407.1 392.87,406.72 395.9,406.3 C398.93,405.88 401.58,405.55 405,405.2 C408.42,404.85 411.78,404.6 416.4,404.2 C421.02,403.8 427.25,403.2 432.7,402.8 C438.15,402.4 442,402.1 449.1,401.8 C456.2,401.5 470.93,401.13 475.3,401 L475.3,402.7 C470.93,402.85 456.2,403.23 449.1,403.6 C442,403.97 438.15,404.4 432.7,404.9 C427.25,405.4 421.02,406.1 416.4,406.6 C411.78,407.1 408.42,407.52 405,407.9 C401.58,408.28 398.93,408.47 395.9,408.9 C392.87,409.33 389.83,409.78 386.8,410.5 C383.77,411.22 380.73,412.3 377.7,413.2 C374.67,414.1 371.63,414.85 368.6,415.9 C365.57,416.95 362.52,418.13 359.5,419.5 C356.48,420.87 353.52,422.43 350.5,424.1 C347.48,425.77 344.43,427.23 341.4,429.5 C338.37,431.77 335.03,434.97 332.3,437.7 C329.57,440.43 327.13,443.28 325,445.9 C322.87,448.52 320.87,451.65 319.5,453.4 C318.13,455.15 317.25,455.9 316.8,456.4 Z" fill="#ff0000" stroke="#ff0000" stroke-width="0.8" stroke-linejoin="round"/>
<rect x="313.8" y="452.6" width="3.4" height="3.4" fill="#ff0000"/>
<path d="M316,500.1 C317.17,499.93 320.67,499.65 323,499.1 C325.33,498.55 327.5,497.75 330,496.8 C332.5,495.85 335.27,494.62 338,493.4 C340.73,492.18 343.65,491.07 346.4,489.5 C349.15,487.93 351.78,486 354.5,484 C357.22,482 359.97,479.68 362.7,477.5 C365.43,475.32 368.17,473.15 370.9,470.9 C373.63,468.65 376.37,466.32 379.1,464 C381.83,461.68 384.57,459.33 387.3,457 C390.03,454.67 392.78,452.27 395.5,450 C398.22,447.73 400.88,445.4 403.6,443.4 C406.32,441.4 409.07,439.73 411.8,438 C414.53,436.27 417,434.73 420,433 C423,431.27 426.72,429.1 429.8,427.6 C432.88,426.1 435.58,425.15 438.5,424 C441.42,422.85 444.02,421.72 447.3,420.7 C450.58,419.68 453.65,418.92 458.2,417.9 C462.75,416.88 471.87,415.15 474.6,414.6" fill="none" stroke="#0000ff" stroke-width="2.8" stroke-linejoin="round" stroke-linecap="round"/>
<line x1="336.5" y1="500.8" x2="411.3" y2="439.3" stroke="#00e000" stroke-width="0.9"/>
<line x1="297.2" y1="392.3" x2="493.6" y2="392.3" stroke="#5e5e5e" stroke-width="1.1"/>
<line x1="297.2" y1="500.7" x2="493.6" y2="500.7" stroke="#5e5e5e" stroke-width="1.1"/>
<line x1="316.6" y1="500.7" x2="316.6" y2="498.1" stroke="#5e5e5e" stroke-width="0.9"/>
<line x1="336.25" y1="500.7" x2="336.25" y2="498.9" stroke="#5e5e5e" stroke-width="0.9"/>
<line x1="355.9" y1="500.7" x2="355.9" y2="498.1" stroke="#5e5e5e" stroke-width="0.9"/>
<line x1="375.55" y1="500.7" x2="375.55" y2="498.9" stroke="#5e5e5e" stroke-width="0.9"/>
<line x1="395.2" y1="500.7" x2="395.2" y2="498.1" stroke="#5e5e5e" stroke-width="0.9"/>
<line x1="414.85" y1="500.7" x2="414.85" y2="498.9" stroke="#5e5e5e" stroke-width="0.9"/>
<line x1="434.5" y1="500.7" x2="434.5" y2="498.1" stroke="#5e5e5e" stroke-width="0.9"/>
<line x1="454.15" y1="500.7" x2="454.15" y2="498.9" stroke="#5e5e5e" stroke-width="0.9"/>
<line x1="473.8" y1="500.7" x2="473.8" y2="498.1" stroke="#5e5e5e" stroke-width="0.9"/>
<line x1="297.2" y1="391.8" x2="297.2" y2="501.2" stroke="#ff0000" stroke-width="1.25"/>
<line x1="297.2" y1="500.7" x2="300.2" y2="500.7" stroke="#ff0000" stroke-width="1"/>
<line x1="297.2" y1="489.86" x2="299.2" y2="489.86" stroke="#ff0000" stroke-width="1"/>
<line x1="297.2" y1="479.02" x2="300.2" y2="479.02" stroke="#ff0000" stroke-width="1"/>
<line x1="297.2" y1="468.18" x2="299.2" y2="468.18" stroke="#ff0000" stroke-width="1"/>
<line x1="297.2" y1="457.34" x2="300.2" y2="457.34" stroke="#ff0000" stroke-width="1"/>
<line x1="297.2" y1="446.5" x2="299.2" y2="446.5" stroke="#ff0000" stroke-width="1"/>
<line x1="297.2" y1="435.66" x2="300.2" y2="435.66" stroke="#ff0000" stroke-width="1"/>
<line x1="297.2" y1="424.82" x2="299.2" y2="424.82" stroke="#ff0000" stroke-width="1"/>
<line x1="297.2" y1="413.98" x2="300.2" y2="413.98" stroke="#ff0000" stroke-width="1"/>
<line x1="297.2" y1="403.14" x2="299.2" y2="403.14" stroke="#ff0000" stroke-width="1"/>
<line x1="297.2" y1="392.3" x2="300.2" y2="392.3" stroke="#ff0000" stroke-width="1"/>
<line x1="297.2" y1="497.44" x2="298.9" y2="497.44" stroke="#ff2020" stroke-width="0.7"/>
<line x1="297.2" y1="495.53" x2="298.9" y2="495.53" stroke="#ff2020" stroke-width="0.7"/>
<line x1="297.2" y1="494.17" x2="298.9" y2="494.17" stroke="#ff2020" stroke-width="0.7"/>
<line x1="297.2" y1="493.12" x2="298.9" y2="493.12" stroke="#ff2020" stroke-width="0.7"/>
<line x1="297.2" y1="492.26" x2="298.9" y2="492.26" stroke="#ff2020" stroke-width="0.7"/>
<line x1="297.2" y1="491.54" x2="298.9" y2="491.54" stroke="#ff2020" stroke-width="0.7"/>
<line x1="297.2" y1="490.91" x2="298.9" y2="490.91" stroke="#ff2020" stroke-width="0.7"/>
<line x1="297.2" y1="490.36" x2="298.9" y2="490.36" stroke="#ff2020" stroke-width="0.7"/>
<line x1="297.2" y1="486.6" x2="298.9" y2="486.6" stroke="#ff2020" stroke-width="0.7"/>
<line x1="297.2" y1="484.69" x2="298.9" y2="484.69" stroke="#ff2020" stroke-width="0.7"/>
<line x1="297.2" y1="483.33" x2="298.9" y2="483.33" stroke="#ff2020" stroke-width="0.7"/>
<line x1="297.2" y1="482.28" x2="298.9" y2="482.28" stroke="#ff2020" stroke-width="0.7"/>
<line x1="297.2" y1="481.42" x2="298.9" y2="481.42" stroke="#ff2020" stroke-width="0.7"/>
<line x1="297.2" y1="480.7" x2="298.9" y2="480.7" stroke="#ff2020" stroke-width="0.7"/>
<line x1="297.2" y1="480.07" x2="298.9" y2="480.07" stroke="#ff2020" stroke-width="0.7"/>
<line x1="297.2" y1="479.52" x2="298.9" y2="479.52" stroke="#ff2020" stroke-width="0.7"/>
<line x1="297.2" y1="475.76" x2="298.9" y2="475.76" stroke="#ff2020" stroke-width="0.7"/>
<line x1="297.2" y1="473.85" x2="298.9" y2="473.85" stroke="#ff2020" stroke-width="0.7"/>
<line x1="297.2" y1="472.49" x2="298.9" y2="472.49" stroke="#ff2020" stroke-width="0.7"/>
<line x1="297.2" y1="471.44" x2="298.9" y2="471.44" stroke="#ff2020" stroke-width="0.7"/>
<line x1="297.2" y1="470.58" x2="298.9" y2="470.58" stroke="#ff2020" stroke-width="0.7"/>
<line x1="297.2" y1="469.86" x2="298.9" y2="469.86" stroke="#ff2020" stroke-width="0.7"/>
<line x1="297.2" y1="469.23" x2="298.9" y2="469.23" stroke="#ff2020" stroke-width="0.7"/>
<line x1="297.2" y1="468.68" x2="298.9" y2="468.68" stroke="#ff2020" stroke-width="0.7"/>
<line x1="297.2" y1="464.92" x2="298.9" y2="464.92" stroke="#ff2020" stroke-width="0.7"/>
<line x1="297.2" y1="463.01" x2="298.9" y2="463.01" stroke="#ff2020" stroke-width="0.7"/>
<line x1="297.2" y1="461.65" x2="298.9" y2="461.65" stroke="#ff2020" stroke-width="0.7"/>
<line x1="297.2" y1="460.6" x2="298.9" y2="460.6" stroke="#ff2020" stroke-width="0.7"/>
<line x1="297.2" y1="459.74" x2="298.9" y2="459.74" stroke="#ff2020" stroke-width="0.7"/>
<line x1="297.2" y1="459.02" x2="298.9" y2="459.02" stroke="#ff2020" stroke-width="0.7"/>
<line x1="297.2" y1="458.39" x2="298.9" y2="458.39" stroke="#ff2020" stroke-width="0.7"/>
<line x1="297.2" y1="457.84" x2="298.9" y2="457.84" stroke="#ff2020" stroke-width="0.7"/>
<line x1="297.2" y1="454.08" x2="298.9" y2="454.08" stroke="#ff2020" stroke-width="0.7"/>
<line x1="297.2" y1="452.17" x2="298.9" y2="452.17" stroke="#ff2020" stroke-width="0.7"/>
<line x1="297.2" y1="450.81" x2="298.9" y2="450.81" stroke="#ff2020" stroke-width="0.7"/>
<line x1="297.2" y1="449.76" x2="298.9" y2="449.76" stroke="#ff2020" stroke-width="0.7"/>
<line x1="297.2" y1="448.9" x2="298.9" y2="448.9" stroke="#ff2020" stroke-width="0.7"/>
<line x1="297.2" y1="448.18" x2="298.9" y2="448.18" stroke="#ff2020" stroke-width="0.7"/>
<line x1="297.2" y1="447.55" x2="298.9" y2="447.55" stroke="#ff2020" stroke-width="0.7"/>
<line x1="297.2" y1="447" x2="298.9" y2="447" stroke="#ff2020" stroke-width="0.7"/>
<line x1="297.2" y1="443.24" x2="298.9" y2="443.24" stroke="#ff2020" stroke-width="0.7"/>
<line x1="297.2" y1="441.33" x2="298.9" y2="441.33" stroke="#ff2020" stroke-width="0.7"/>
<line x1="297.2" y1="439.97" x2="298.9" y2="439.97" stroke="#ff2020" stroke-width="0.7"/>
<line x1="297.2" y1="438.92" x2="298.9" y2="438.92" stroke="#ff2020" stroke-width="0.7"/>
<line x1="297.2" y1="438.06" x2="298.9" y2="438.06" stroke="#ff2020" stroke-width="0.7"/>
<line x1="297.2" y1="437.34" x2="298.9" y2="437.34" stroke="#ff2020" stroke-width="0.7"/>
<line x1="297.2" y1="436.71" x2="298.9" y2="436.71" stroke="#ff2020" stroke-width="0.7"/>
<line x1="297.2" y1="436.16" x2="298.9" y2="436.16" stroke="#ff2020" stroke-width="0.7"/>
<line x1="297.2" y1="432.4" x2="298.9" y2="432.4" stroke="#ff2020" stroke-width="0.7"/>
<line x1="297.2" y1="430.49" x2="298.9" y2="430.49" stroke="#ff2020" stroke-width="0.7"/>
<line x1="297.2" y1="429.13" x2="298.9" y2="429.13" stroke="#ff2020" stroke-width="0.7"/>
<line x1="297.2" y1="428.08" x2="298.9" y2="428.08" stroke="#ff2020" stroke-width="0.7"/>
<line x1="297.2" y1="427.22" x2="298.9" y2="427.22" stroke="#ff2020" stroke-width="0.7"/>
<line x1="297.2" y1="426.5" x2="298.9" y2="426.5" stroke="#ff2020" stroke-width="0.7"/>
<line x1="297.2" y1="425.87" x2="298.9" y2="425.87" stroke="#ff2020" stroke-width="0.7"/>
<line x1="297.2" y1="425.32" x2="298.9" y2="425.32" stroke="#ff2020" stroke-width="0.7"/>
<line x1="297.2" y1="421.56" x2="298.9" y2="421.56" stroke="#ff2020" stroke-width="0.7"/>
<line x1="297.2" y1="419.65" x2="298.9" y2="419.65" stroke="#ff2020" stroke-width="0.7"/>
<line x1="297.2" y1="418.29" x2="298.9" y2="418.29" stroke="#ff2020" stroke-width="0.7"/>
<line x1="297.2" y1="417.24" x2="298.9" y2="417.24" stroke="#ff2020" stroke-width="0.7"/>
<line x1="297.2" y1="416.38" x2="298.9" y2="416.38" stroke="#ff2020" stroke-width="0.7"/>
<line x1="297.2" y1="415.66" x2="298.9" y2="415.66" stroke="#ff2020" stroke-width="0.7"/>
<line x1="297.2" y1="415.03" x2="298.9" y2="415.03" stroke="#ff2020" stroke-width="0.7"/>
<line x1="297.2" y1="414.48" x2="298.9" y2="414.48" stroke="#ff2020" stroke-width="0.7"/>
<line x1="297.2" y1="410.72" x2="298.9" y2="410.72" stroke="#ff2020" stroke-width="0.7"/>
<line x1="297.2" y1="408.81" x2="298.9" y2="408.81" stroke="#ff2020" stroke-width="0.7"/>
<line x1="297.2" y1="407.45" x2="298.9" y2="407.45" stroke="#ff2020" stroke-width="0.7"/>
<line x1="297.2" y1="406.4" x2="298.9" y2="406.4" stroke="#ff2020" stroke-width="0.7"/>
<line x1="297.2" y1="405.54" x2="298.9" y2="405.54" stroke="#ff2020" stroke-width="0.7"/>
<line x1="297.2" y1="404.82" x2="298.9" y2="404.82" stroke="#ff2020" stroke-width="0.7"/>
<line x1="297.2" y1="404.19" x2="298.9" y2="404.19" stroke="#ff2020" stroke-width="0.7"/>
<line x1="297.2" y1="403.64" x2="298.9" y2="403.64" stroke="#ff2020" stroke-width="0.7"/>
<line x1="297.2" y1="399.88" x2="298.9" y2="399.88" stroke="#ff2020" stroke-width="0.7"/>
<line x1="297.2" y1="397.97" x2="298.9" y2="397.97" stroke="#ff2020" stroke-width="0.7"/>
<line x1="297.2" y1="396.61" x2="298.9" y2="396.61" stroke="#ff2020" stroke-width="0.7"/>
<line x1="297.2" y1="395.56" x2="298.9" y2="395.56" stroke="#ff2020" stroke-width="0.7"/>
<line x1="297.2" y1="394.7" x2="298.9" y2="394.7" stroke="#ff2020" stroke-width="0.7"/>
<line x1="297.2" y1="393.98" x2="298.9" y2="393.98" stroke="#ff2020" stroke-width="0.7"/>
<line x1="297.2" y1="393.35" x2="298.9" y2="393.35" stroke="#ff2020" stroke-width="0.7"/>
<line x1="297.2" y1="392.8" x2="298.9" y2="392.8" stroke="#ff2020" stroke-width="0.7"/>
<line x1="493.6" y1="391.8" x2="493.6" y2="501.2" stroke="#3a3aff" stroke-width="1"/>
<line x1="490.6" y1="500.7" x2="493.6" y2="500.7" stroke="#2a2aff" stroke-width="1"/>
<line x1="490.6" y1="479.02" x2="493.6" y2="479.02" stroke="#2a2aff" stroke-width="1"/>
<line x1="490.6" y1="457.34" x2="493.6" y2="457.34" stroke="#2a2aff" stroke-width="1"/>
<line x1="490.6" y1="435.66" x2="493.6" y2="435.66" stroke="#2a2aff" stroke-width="1"/>
<line x1="490.6" y1="413.98" x2="493.6" y2="413.98" stroke="#2a2aff" stroke-width="1"/>
<line x1="490.6" y1="392.3" x2="493.6" y2="392.3" stroke="#2a2aff" stroke-width="1"/>
<text x="284.8" y="502.1" font-size="4.8" fill="#ff0000" textLength="8.2" lengthAdjust="spacingAndGlyphs">−13</text>
<text x="275.6" y="504.1" font-size="7" fill="#ff0000" textLength="8.8" lengthAdjust="spacingAndGlyphs">10</text>
<text x="284.8" y="480.42" font-size="4.8" fill="#ff0000" textLength="8.2" lengthAdjust="spacingAndGlyphs">−11</text>
<text x="275.6" y="482.42" font-size="7" fill="#ff0000" textLength="8.8" lengthAdjust="spacingAndGlyphs">10</text>
<text x="287.3" y="458.74" font-size="4.8" fill="#ff0000" textLength="5.7" lengthAdjust="spacingAndGlyphs">−9</text>
<text x="278.1" y="460.74" font-size="7" fill="#ff0000" textLength="8.8" lengthAdjust="spacingAndGlyphs">10</text>
<text x="287.3" y="437.06" font-size="4.8" fill="#ff0000" textLength="5.7" lengthAdjust="spacingAndGlyphs">−7</text>
<text x="278.1" y="439.06" font-size="7" fill="#ff0000" textLength="8.8" lengthAdjust="spacingAndGlyphs">10</text>
<text x="287.3" y="415.38" font-size="4.8" fill="#ff0000" textLength="5.7" lengthAdjust="spacingAndGlyphs">−5</text>
<text x="278.1" y="417.38" font-size="7" fill="#ff0000" textLength="8.8" lengthAdjust="spacingAndGlyphs">10</text>
<text x="287.3" y="393.7" font-size="4.8" fill="#ff0000" textLength="5.7" lengthAdjust="spacingAndGlyphs">−3</text>
<text x="278.1" y="395.7" font-size="7" fill="#ff0000" textLength="8.8" lengthAdjust="spacingAndGlyphs">10</text>
<text x="496.2" y="503.5" font-size="6.8" fill="#0000ff" textLength="13.4" lengthAdjust="spacingAndGlyphs">0. 0</text>
<text x="496.2" y="481.82" font-size="6.8" fill="#0000ff" textLength="26.6" lengthAdjust="spacingAndGlyphs">3. 0x10</text>
<text x="523.2" y="479.02" font-size="4.6" fill="#0000ff" textLength="5.6" lengthAdjust="spacingAndGlyphs">−3</text>
<text x="496.2" y="460.14" font-size="6.8" fill="#0000ff" textLength="26.6" lengthAdjust="spacingAndGlyphs">6. 0x10</text>
<text x="523.2" y="457.34" font-size="4.6" fill="#0000ff" textLength="5.6" lengthAdjust="spacingAndGlyphs">−3</text>
<text x="496.2" y="438.46" font-size="6.8" fill="#0000ff" textLength="26.6" lengthAdjust="spacingAndGlyphs">9. 0x10</text>
<text x="523.2" y="435.66" font-size="4.6" fill="#0000ff" textLength="5.6" lengthAdjust="spacingAndGlyphs">−3</text>
<text x="496.2" y="416.78" font-size="6.8" fill="#0000ff" textLength="26.6" lengthAdjust="spacingAndGlyphs">1. 2x10</text>
<text x="523.2" y="413.98" font-size="4.6" fill="#0000ff" textLength="5.6" lengthAdjust="spacingAndGlyphs">−2</text>
<text x="496.2" y="395.1" font-size="6.8" fill="#0000ff" textLength="26.6" lengthAdjust="spacingAndGlyphs">1. 5x10</text>
<text x="523.2" y="392.3" font-size="4.6" fill="#0000ff" textLength="5.6" lengthAdjust="spacingAndGlyphs">−2</text>
<rect x="306.55" y="506.96" width="5.3" height="1.2" fill="#000"/>
<text x="312.85" y="510.2" font-size="9" textLength="11.8" lengthAdjust="spacingAndGlyphs">20</text>
<rect x="345.85" y="506.96" width="5.3" height="1.2" fill="#000"/>
<text x="352.15" y="510.2" font-size="9" textLength="11.8" lengthAdjust="spacingAndGlyphs">10</text>
<text x="395.2" y="510.2" font-size="9" text-anchor="middle" textLength="5.9" lengthAdjust="spacingAndGlyphs">0</text>
<text x="434.5" y="510.2" font-size="9" text-anchor="middle" textLength="11.8" lengthAdjust="spacingAndGlyphs">10</text>
<text x="473.8" y="510.2" font-size="9" text-anchor="middle" textLength="11.8" lengthAdjust="spacingAndGlyphs">20</text>
<text x="383.3" y="514.5" font-size="8.3" textLength="5.1" lengthAdjust="spacingAndGlyphs">V</text>
<text x="388.4" y="516.6" font-size="6" textLength="4.2" lengthAdjust="spacingAndGlyphs">G</text>
<text x="394.5" y="514" font-size="7.7" textLength="13.5" lengthAdjust="spacingAndGlyphs">(V)</text>
<text transform="translate(271.9,451.2) rotate(-90)" font-size="12.6" fill="#ff0000" textLength="2.6" lengthAdjust="spacingAndGlyphs">I</text>
<text transform="translate(275.5,448.5) rotate(-90)" font-size="9" fill="#ff0000" textLength="2.9" lengthAdjust="spacingAndGlyphs">D</text>
<text transform="translate(270.6,444.7) rotate(-90)" font-size="11.2" fill="#ff0000" stroke="#ff0000" stroke-width="0.35" textLength="8.9" lengthAdjust="spacingAndGlyphs">(A)</text>
<text transform="translate(542.7,456.4) rotate(-90)" font-size="14" fill="#0000ff" textLength="2.7" lengthAdjust="spacingAndGlyphs">I</text>
<text transform="translate(546.4,453.7) rotate(-90)" font-size="9" fill="#0000ff" textLength="3.2" lengthAdjust="spacingAndGlyphs">D</text>
<text transform="translate(535.6,450.5) rotate(-90)" font-size="7.4" fill="#0000ff" textLength="7.2" lengthAdjust="spacingAndGlyphs">1/2</text>
<text transform="translate(541,442.7) rotate(-90)" font-size="12.2" fill="#0000ff" stroke="#0000ff" stroke-width="0.35" textLength="8.5" lengthAdjust="spacingAndGlyphs">(A</text>
<text transform="translate(536.1,434.6) rotate(-90)" font-size="7.4" fill="#0000ff" textLength="6.8" lengthAdjust="spacingAndGlyphs">1/2</text>
<text transform="translate(541,428.2) rotate(-90)" font-size="12.2" fill="#0000ff" stroke="#0000ff" stroke-width="0.35" textLength="4.5" lengthAdjust="spacingAndGlyphs">)</text>
<text x="271.8" y="192" font-size="10.5" font-weight="normal" fill="#111" textLength="13.3" lengthAdjust="spacingAndGlyphs">(b)</text>
<text x="272.7" y="375.6" font-size="10.9" fill="#111" textLength="11.5" lengthAdjust="spacingAndGlyphs">(c)</text>
<text x="271.6" y="544.4" font-size="11.4" fill="#111" textLength="13.1" lengthAdjust="spacingAndGlyphs">(d)</text>
</svg></body></html>
